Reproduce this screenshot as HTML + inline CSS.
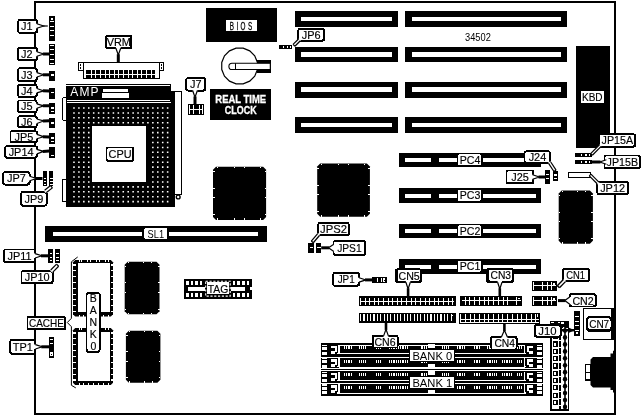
<!DOCTYPE html>
<html><head><meta charset="utf-8"><title>34502 motherboard</title>
<style>
html,body{margin:0;padding:0;background:#fff;}
svg{display:block;font-family:"Liberation Sans",sans-serif;will-change:transform;}
rect{shape-rendering:crispEdges;}
</style></head><body>
<svg width="644" height="416" viewBox="0 0 644 416">
<rect x="0" y="0" width="644" height="416" fill="#fff"/>
<rect x="35" y="2" width="579.6" height="411.7" fill="#fff" stroke="#000" stroke-width="2"/>
<rect x="49.00" y="15.80" width="6.10" height="24.90" fill="#000"/>
<rect x="50.80" y="17.90" width="2.60" height="2.20" fill="#fff"/>
<rect x="50.20" y="21.05" width="3.90" height="1.10" fill="#fff"/>
<rect x="50.20" y="25.65" width="3.90" height="1.10" fill="#fff"/>
<rect x="50.20" y="30.05" width="3.90" height="1.10" fill="#fff"/>
<rect x="50.20" y="35.15" width="3.90" height="1.10" fill="#fff"/>
<rect x="49.00" y="43.90" width="6.10" height="21.10" fill="#000"/>
<rect x="50.20" y="45.05" width="3.90" height="1.10" fill="#fff"/>
<rect x="50.20" y="48.75" width="3.90" height="1.10" fill="#fff"/>
<rect x="50.20" y="53.85" width="3.90" height="1.10" fill="#fff"/>
<rect x="50.20" y="58.85" width="3.90" height="1.10" fill="#fff"/>
<rect x="50.20" y="62.75" width="3.90" height="1.10" fill="#fff"/>
<rect x="49.10" y="70.50" width="5.60" height="10.00" fill="#000"/>
<rect x="50.50" y="74.45" width="3.40" height="1.10" fill="#fff"/>
<rect x="49.20" y="87.80" width="5.50" height="10.80" fill="#000"/>
<rect x="50.60" y="92.35" width="3.30" height="1.10" fill="#fff"/>
<rect x="49.20" y="102.80" width="5.50" height="10.80" fill="#000"/>
<rect x="50.60" y="107.45" width="3.30" height="1.10" fill="#fff"/>
<rect x="50.60" y="111.15" width="3.30" height="1.10" fill="#fff"/>
<rect x="49.20" y="117.80" width="5.50" height="10.30" fill="#000"/>
<rect x="50.60" y="122.45" width="3.30" height="1.10" fill="#fff"/>
<rect x="49.20" y="133.20" width="5.50" height="10.50" fill="#000"/>
<rect x="50.60" y="137.45" width="3.30" height="1.10" fill="#fff"/>
<rect x="50.60" y="141.35" width="3.30" height="1.10" fill="#fff"/>
<rect x="49.20" y="146.90" width="5.50" height="11.20" fill="#000"/>
<rect x="50.60" y="155.05" width="3.30" height="1.10" fill="#fff"/>
<rect x="42.50" y="171.20" width="4.70" height="15.00" fill="#000"/>
<rect x="43.90" y="177.95" width="2.50" height="1.10" fill="#fff"/>
<rect x="43.90" y="180.95" width="2.50" height="1.10" fill="#fff"/>
<rect x="43.90" y="183.65" width="2.50" height="1.10" fill="#fff"/>
<rect x="48.70" y="171.20" width="4.70" height="15.00" fill="#000"/>
<rect x="50.10" y="177.95" width="2.50" height="1.10" fill="#fff"/>
<rect x="50.10" y="180.95" width="2.50" height="1.10" fill="#fff"/>
<rect x="50.10" y="183.65" width="2.50" height="1.10" fill="#fff"/>
<rect x="48.20" y="249.20" width="5.00" height="13.80" fill="#000"/>
<rect x="49.60" y="252.95" width="2.80" height="1.10" fill="#fff"/>
<rect x="49.60" y="256.95" width="2.80" height="1.10" fill="#fff"/>
<rect x="49.60" y="260.25" width="2.80" height="1.10" fill="#fff"/>
<rect x="54.50" y="249.20" width="5.10" height="13.80" fill="#000"/>
<rect x="55.90" y="252.95" width="2.90" height="1.10" fill="#fff"/>
<rect x="55.90" y="256.95" width="2.90" height="1.10" fill="#fff"/>
<rect x="55.90" y="260.25" width="2.90" height="1.10" fill="#fff"/>
<rect x="49.20" y="337.00" width="4.60" height="20.50" fill="#000"/>
<rect x="50.30" y="338.65" width="2.90" height="1.10" fill="#fff"/>
<rect x="50.30" y="343.05" width="2.90" height="1.10" fill="#fff"/>
<rect x="50.20" y="352.40" width="3.00" height="3.50" fill="#fff"/>
<rect x="51.20" y="353.60" width="1.10" height="1.10" fill="#000"/>
<rect x="78.20" y="62.50" width="5.30" height="8.20" fill="#fff" stroke="#000" stroke-width="1"/>
<rect x="159.00" y="62.50" width="4.40" height="8.20" fill="#fff" stroke="#000" stroke-width="1"/>
<rect x="79.50" y="64.00" width="1.50" height="1.50" fill="#000"/>
<rect x="79.50" y="67.00" width="1.50" height="1.50" fill="#000"/>
<rect x="160.50" y="64.00" width="1.50" height="1.50" fill="#000"/>
<rect x="160.50" y="67.00" width="1.50" height="1.50" fill="#000"/>
<rect x="83.50" y="62.30" width="75.70" height="16.20" fill="#fff" stroke="#000" stroke-width="1.2"/>
<rect x="86.20" y="69.80" width="68.90" height="8.10" fill="#000"/>
<rect x="91.00" y="69.80" width="1.00" height="8.10" fill="#fff"/>
<rect x="95.00" y="69.80" width="1.00" height="8.10" fill="#fff"/>
<rect x="100.00" y="69.80" width="1.00" height="8.10" fill="#fff"/>
<rect x="105.00" y="69.80" width="1.00" height="8.10" fill="#fff"/>
<rect x="109.00" y="69.80" width="1.00" height="8.10" fill="#fff"/>
<rect x="114.00" y="69.80" width="1.00" height="8.10" fill="#fff"/>
<rect x="118.00" y="69.80" width="1.00" height="8.10" fill="#fff"/>
<rect x="123.00" y="69.80" width="1.00" height="8.10" fill="#fff"/>
<rect x="128.00" y="69.80" width="1.00" height="8.10" fill="#fff"/>
<rect x="132.00" y="69.80" width="1.00" height="8.10" fill="#fff"/>
<rect x="137.00" y="69.80" width="1.00" height="8.10" fill="#fff"/>
<rect x="141.00" y="69.80" width="1.00" height="8.10" fill="#fff"/>
<rect x="146.00" y="69.80" width="1.00" height="8.10" fill="#fff"/>
<rect x="151.00" y="69.80" width="1.00" height="8.10" fill="#fff"/>
<rect x="86.20" y="74.00" width="68.90" height="1.00" fill="#fff"/>
<rect x="66.00" y="83.50" width="105.20" height="1.00" fill="#000"/>
<rect x="66.00" y="85.70" width="104.20" height="14.30" fill="#000"/>
<rect x="170.40" y="84.00" width="0.80" height="18.00" fill="#000"/>
<rect x="102.90" y="89.30" width="25.00" height="2.20" fill="#fff"/>
<rect x="102.00" y="93.00" width="27.10" height="4.80" fill="#fff"/>
<text x="70.20" y="95.60" font-size="12" fill="#fff" text-anchor="start" letter-spacing="1.2">AMP</text>
<rect x="66.00" y="101.00" width="105.20" height="1.00" fill="#000"/>
<rect x="66.00" y="103.30" width="109.00" height="104.10" fill="#000"/>
<rect x="171.20" y="91.00" width="10.80" height="104.00" fill="#000"/>
<rect x="175.30" y="92.40" width="5.30" height="101.60" fill="#fff"/>
<circle cx="178.2" cy="197" r="1.9" fill="#fff" stroke="#000" stroke-width="1.4"/>
<rect x="62.30" y="97.60" width="4.00" height="22.70" fill="#fff" stroke="#000" stroke-width="1" rx="1.5"/>
<rect x="62.30" y="179.00" width="4.00" height="22.50" fill="#fff" stroke="#000" stroke-width="1" rx="1.5"/>
<path d="M73.20 107.20h1.55v1.55h-1.55zM78.13 107.20h1.55v1.55h-1.55zM83.06 107.20h1.55v1.55h-1.55zM87.99 107.20h1.55v1.55h-1.55zM92.92 107.20h1.55v1.55h-1.55zM97.85 107.20h1.55v1.55h-1.55zM102.78 107.20h1.55v1.55h-1.55zM107.71 107.20h1.55v1.55h-1.55zM112.64 107.20h1.55v1.55h-1.55zM117.57 107.20h1.55v1.55h-1.55zM122.50 107.20h1.55v1.55h-1.55zM127.43 107.20h1.55v1.55h-1.55zM132.36 107.20h1.55v1.55h-1.55zM137.29 107.20h1.55v1.55h-1.55zM142.22 107.20h1.55v1.55h-1.55zM147.15 107.20h1.55v1.55h-1.55zM152.08 107.20h1.55v1.55h-1.55zM157.01 107.20h1.55v1.55h-1.55zM161.94 107.20h1.55v1.55h-1.55zM166.87 107.20h1.55v1.55h-1.55zM73.20 112.13h1.55v1.55h-1.55zM78.13 112.13h1.55v1.55h-1.55zM83.06 112.13h1.55v1.55h-1.55zM87.99 112.13h1.55v1.55h-1.55zM92.92 112.13h1.55v1.55h-1.55zM97.85 112.13h1.55v1.55h-1.55zM102.78 112.13h1.55v1.55h-1.55zM107.71 112.13h1.55v1.55h-1.55zM112.64 112.13h1.55v1.55h-1.55zM117.57 112.13h1.55v1.55h-1.55zM122.50 112.13h1.55v1.55h-1.55zM127.43 112.13h1.55v1.55h-1.55zM132.36 112.13h1.55v1.55h-1.55zM137.29 112.13h1.55v1.55h-1.55zM142.22 112.13h1.55v1.55h-1.55zM147.15 112.13h1.55v1.55h-1.55zM152.08 112.13h1.55v1.55h-1.55zM157.01 112.13h1.55v1.55h-1.55zM161.94 112.13h1.55v1.55h-1.55zM166.87 112.13h1.55v1.55h-1.55zM73.20 117.06h1.55v1.55h-1.55zM78.13 117.06h1.55v1.55h-1.55zM83.06 117.06h1.55v1.55h-1.55zM87.99 117.06h1.55v1.55h-1.55zM92.92 117.06h1.55v1.55h-1.55zM97.85 117.06h1.55v1.55h-1.55zM102.78 117.06h1.55v1.55h-1.55zM107.71 117.06h1.55v1.55h-1.55zM112.64 117.06h1.55v1.55h-1.55zM117.57 117.06h1.55v1.55h-1.55zM122.50 117.06h1.55v1.55h-1.55zM127.43 117.06h1.55v1.55h-1.55zM132.36 117.06h1.55v1.55h-1.55zM137.29 117.06h1.55v1.55h-1.55zM142.22 117.06h1.55v1.55h-1.55zM147.15 117.06h1.55v1.55h-1.55zM152.08 117.06h1.55v1.55h-1.55zM157.01 117.06h1.55v1.55h-1.55zM161.94 117.06h1.55v1.55h-1.55zM166.87 117.06h1.55v1.55h-1.55zM73.20 121.99h1.55v1.55h-1.55zM78.13 121.99h1.55v1.55h-1.55zM83.06 121.99h1.55v1.55h-1.55zM87.99 121.99h1.55v1.55h-1.55zM92.92 121.99h1.55v1.55h-1.55zM97.85 121.99h1.55v1.55h-1.55zM102.78 121.99h1.55v1.55h-1.55zM107.71 121.99h1.55v1.55h-1.55zM112.64 121.99h1.55v1.55h-1.55zM117.57 121.99h1.55v1.55h-1.55zM122.50 121.99h1.55v1.55h-1.55zM127.43 121.99h1.55v1.55h-1.55zM132.36 121.99h1.55v1.55h-1.55zM137.29 121.99h1.55v1.55h-1.55zM142.22 121.99h1.55v1.55h-1.55zM147.15 121.99h1.55v1.55h-1.55zM152.08 121.99h1.55v1.55h-1.55zM157.01 121.99h1.55v1.55h-1.55zM161.94 121.99h1.55v1.55h-1.55zM166.87 121.99h1.55v1.55h-1.55zM73.20 126.92h1.55v1.55h-1.55zM78.13 126.92h1.55v1.55h-1.55zM83.06 126.92h1.55v1.55h-1.55zM87.99 126.92h1.55v1.55h-1.55zM152.08 126.92h1.55v1.55h-1.55zM157.01 126.92h1.55v1.55h-1.55zM161.94 126.92h1.55v1.55h-1.55zM166.87 126.92h1.55v1.55h-1.55zM73.20 131.85h1.55v1.55h-1.55zM78.13 131.85h1.55v1.55h-1.55zM83.06 131.85h1.55v1.55h-1.55zM87.99 131.85h1.55v1.55h-1.55zM152.08 131.85h1.55v1.55h-1.55zM157.01 131.85h1.55v1.55h-1.55zM161.94 131.85h1.55v1.55h-1.55zM166.87 131.85h1.55v1.55h-1.55zM73.20 136.78h1.55v1.55h-1.55zM78.13 136.78h1.55v1.55h-1.55zM83.06 136.78h1.55v1.55h-1.55zM87.99 136.78h1.55v1.55h-1.55zM152.08 136.78h1.55v1.55h-1.55zM157.01 136.78h1.55v1.55h-1.55zM161.94 136.78h1.55v1.55h-1.55zM166.87 136.78h1.55v1.55h-1.55zM73.20 141.71h1.55v1.55h-1.55zM78.13 141.71h1.55v1.55h-1.55zM83.06 141.71h1.55v1.55h-1.55zM87.99 141.71h1.55v1.55h-1.55zM152.08 141.71h1.55v1.55h-1.55zM157.01 141.71h1.55v1.55h-1.55zM161.94 141.71h1.55v1.55h-1.55zM166.87 141.71h1.55v1.55h-1.55zM73.20 146.64h1.55v1.55h-1.55zM78.13 146.64h1.55v1.55h-1.55zM83.06 146.64h1.55v1.55h-1.55zM87.99 146.64h1.55v1.55h-1.55zM152.08 146.64h1.55v1.55h-1.55zM157.01 146.64h1.55v1.55h-1.55zM161.94 146.64h1.55v1.55h-1.55zM166.87 146.64h1.55v1.55h-1.55zM73.20 151.57h1.55v1.55h-1.55zM78.13 151.57h1.55v1.55h-1.55zM83.06 151.57h1.55v1.55h-1.55zM87.99 151.57h1.55v1.55h-1.55zM152.08 151.57h1.55v1.55h-1.55zM157.01 151.57h1.55v1.55h-1.55zM161.94 151.57h1.55v1.55h-1.55zM166.87 151.57h1.55v1.55h-1.55zM73.20 156.50h1.55v1.55h-1.55zM78.13 156.50h1.55v1.55h-1.55zM83.06 156.50h1.55v1.55h-1.55zM87.99 156.50h1.55v1.55h-1.55zM152.08 156.50h1.55v1.55h-1.55zM157.01 156.50h1.55v1.55h-1.55zM161.94 156.50h1.55v1.55h-1.55zM166.87 156.50h1.55v1.55h-1.55zM73.20 161.43h1.55v1.55h-1.55zM78.13 161.43h1.55v1.55h-1.55zM83.06 161.43h1.55v1.55h-1.55zM87.99 161.43h1.55v1.55h-1.55zM152.08 161.43h1.55v1.55h-1.55zM157.01 161.43h1.55v1.55h-1.55zM161.94 161.43h1.55v1.55h-1.55zM166.87 161.43h1.55v1.55h-1.55zM73.20 166.36h1.55v1.55h-1.55zM78.13 166.36h1.55v1.55h-1.55zM83.06 166.36h1.55v1.55h-1.55zM87.99 166.36h1.55v1.55h-1.55zM152.08 166.36h1.55v1.55h-1.55zM157.01 166.36h1.55v1.55h-1.55zM161.94 166.36h1.55v1.55h-1.55zM166.87 166.36h1.55v1.55h-1.55zM73.20 171.29h1.55v1.55h-1.55zM78.13 171.29h1.55v1.55h-1.55zM83.06 171.29h1.55v1.55h-1.55zM87.99 171.29h1.55v1.55h-1.55zM152.08 171.29h1.55v1.55h-1.55zM157.01 171.29h1.55v1.55h-1.55zM161.94 171.29h1.55v1.55h-1.55zM166.87 171.29h1.55v1.55h-1.55zM73.20 176.22h1.55v1.55h-1.55zM78.13 176.22h1.55v1.55h-1.55zM83.06 176.22h1.55v1.55h-1.55zM87.99 176.22h1.55v1.55h-1.55zM152.08 176.22h1.55v1.55h-1.55zM157.01 176.22h1.55v1.55h-1.55zM161.94 176.22h1.55v1.55h-1.55zM166.87 176.22h1.55v1.55h-1.55zM73.20 181.15h1.55v1.55h-1.55zM78.13 181.15h1.55v1.55h-1.55zM83.06 181.15h1.55v1.55h-1.55zM87.99 181.15h1.55v1.55h-1.55zM152.08 181.15h1.55v1.55h-1.55zM157.01 181.15h1.55v1.55h-1.55zM161.94 181.15h1.55v1.55h-1.55zM166.87 181.15h1.55v1.55h-1.55zM73.20 186.08h1.55v1.55h-1.55zM78.13 186.08h1.55v1.55h-1.55zM83.06 186.08h1.55v1.55h-1.55zM87.99 186.08h1.55v1.55h-1.55zM92.92 186.08h1.55v1.55h-1.55zM97.85 186.08h1.55v1.55h-1.55zM102.78 186.08h1.55v1.55h-1.55zM107.71 186.08h1.55v1.55h-1.55zM112.64 186.08h1.55v1.55h-1.55zM117.57 186.08h1.55v1.55h-1.55zM122.50 186.08h1.55v1.55h-1.55zM127.43 186.08h1.55v1.55h-1.55zM132.36 186.08h1.55v1.55h-1.55zM137.29 186.08h1.55v1.55h-1.55zM142.22 186.08h1.55v1.55h-1.55zM147.15 186.08h1.55v1.55h-1.55zM152.08 186.08h1.55v1.55h-1.55zM157.01 186.08h1.55v1.55h-1.55zM161.94 186.08h1.55v1.55h-1.55zM166.87 186.08h1.55v1.55h-1.55zM73.20 191.01h1.55v1.55h-1.55zM78.13 191.01h1.55v1.55h-1.55zM83.06 191.01h1.55v1.55h-1.55zM87.99 191.01h1.55v1.55h-1.55zM92.92 191.01h1.55v1.55h-1.55zM97.85 191.01h1.55v1.55h-1.55zM102.78 191.01h1.55v1.55h-1.55zM107.71 191.01h1.55v1.55h-1.55zM112.64 191.01h1.55v1.55h-1.55zM117.57 191.01h1.55v1.55h-1.55zM122.50 191.01h1.55v1.55h-1.55zM127.43 191.01h1.55v1.55h-1.55zM132.36 191.01h1.55v1.55h-1.55zM137.29 191.01h1.55v1.55h-1.55zM142.22 191.01h1.55v1.55h-1.55zM147.15 191.01h1.55v1.55h-1.55zM152.08 191.01h1.55v1.55h-1.55zM157.01 191.01h1.55v1.55h-1.55zM161.94 191.01h1.55v1.55h-1.55zM166.87 191.01h1.55v1.55h-1.55zM73.20 195.94h1.55v1.55h-1.55zM78.13 195.94h1.55v1.55h-1.55zM83.06 195.94h1.55v1.55h-1.55zM87.99 195.94h1.55v1.55h-1.55zM92.92 195.94h1.55v1.55h-1.55zM97.85 195.94h1.55v1.55h-1.55zM102.78 195.94h1.55v1.55h-1.55zM107.71 195.94h1.55v1.55h-1.55zM112.64 195.94h1.55v1.55h-1.55zM117.57 195.94h1.55v1.55h-1.55zM122.50 195.94h1.55v1.55h-1.55zM127.43 195.94h1.55v1.55h-1.55zM132.36 195.94h1.55v1.55h-1.55zM137.29 195.94h1.55v1.55h-1.55zM142.22 195.94h1.55v1.55h-1.55zM147.15 195.94h1.55v1.55h-1.55zM152.08 195.94h1.55v1.55h-1.55zM157.01 195.94h1.55v1.55h-1.55zM161.94 195.94h1.55v1.55h-1.55zM166.87 195.94h1.55v1.55h-1.55zM73.20 200.87h1.55v1.55h-1.55zM78.13 200.87h1.55v1.55h-1.55zM83.06 200.87h1.55v1.55h-1.55zM87.99 200.87h1.55v1.55h-1.55zM92.92 200.87h1.55v1.55h-1.55zM97.85 200.87h1.55v1.55h-1.55zM102.78 200.87h1.55v1.55h-1.55zM107.71 200.87h1.55v1.55h-1.55zM112.64 200.87h1.55v1.55h-1.55zM117.57 200.87h1.55v1.55h-1.55zM122.50 200.87h1.55v1.55h-1.55zM127.43 200.87h1.55v1.55h-1.55zM132.36 200.87h1.55v1.55h-1.55zM137.29 200.87h1.55v1.55h-1.55zM142.22 200.87h1.55v1.55h-1.55zM147.15 200.87h1.55v1.55h-1.55zM152.08 200.87h1.55v1.55h-1.55zM157.01 200.87h1.55v1.55h-1.55zM161.94 200.87h1.55v1.55h-1.55zM166.87 200.87h1.55v1.55h-1.55z" fill="#fff"/>
<rect x="92.00" y="126.00" width="54.20" height="56.00" fill="#fff"/>
<rect x="44.50" y="226.30" width="222.80" height="15.50" fill="#000"/>
<rect x="53.00" y="232.00" width="205.00" height="3.80" fill="#fff"/>
<rect x="142.20" y="227.00" width="26.80" height="13.50" fill="#000"/>
<rect x="144.20" y="228.00" width="22.80" height="11.30" fill="#fff" rx="1.8"/>
<text x="155.80" y="238.00" font-size="11" fill="#000" text-anchor="middle" textLength="16.50" lengthAdjust="spacingAndGlyphs">SL1</text>
<polygon points="216.00,166.70 263.10,166.70 266.10,169.70 266.10,216.90 263.10,219.90 216.00,219.90 213.00,216.90 213.00,169.70" fill="#000"/>
<rect x="217.14" y="166.70" width="1.00" height="1.60" fill="#fff"/>
<rect x="217.14" y="218.30" width="1.00" height="1.60" fill="#fff"/>
<rect x="233.91" y="166.70" width="1.00" height="1.60" fill="#fff"/>
<rect x="233.91" y="218.30" width="1.00" height="1.60" fill="#fff"/>
<rect x="243.69" y="166.70" width="1.00" height="1.60" fill="#fff"/>
<rect x="243.69" y="218.30" width="1.00" height="1.60" fill="#fff"/>
<rect x="260.46" y="166.70" width="1.00" height="1.60" fill="#fff"/>
<rect x="260.46" y="218.30" width="1.00" height="1.60" fill="#fff"/>
<rect x="213.00" y="170.85" width="1.60" height="1.00" fill="#fff"/>
<rect x="264.50" y="170.85" width="1.60" height="1.00" fill="#fff"/>
<rect x="213.00" y="187.65" width="1.60" height="1.00" fill="#fff"/>
<rect x="264.50" y="187.65" width="1.60" height="1.00" fill="#fff"/>
<rect x="213.00" y="197.45" width="1.60" height="1.00" fill="#fff"/>
<rect x="264.50" y="197.45" width="1.60" height="1.00" fill="#fff"/>
<rect x="213.00" y="214.25" width="1.60" height="1.00" fill="#fff"/>
<rect x="264.50" y="214.25" width="1.60" height="1.00" fill="#fff"/>
<polygon points="320.20,163.60 366.90,163.60 369.90,166.60 369.90,213.80 366.90,216.80 320.20,216.80 317.20,213.80 317.20,166.60" fill="#000"/>
<rect x="321.29" y="163.60" width="1.00" height="1.60" fill="#fff"/>
<rect x="321.29" y="215.20" width="1.00" height="1.60" fill="#fff"/>
<rect x="337.96" y="163.60" width="1.00" height="1.60" fill="#fff"/>
<rect x="337.96" y="215.20" width="1.00" height="1.60" fill="#fff"/>
<rect x="347.64" y="163.60" width="1.00" height="1.60" fill="#fff"/>
<rect x="347.64" y="215.20" width="1.00" height="1.60" fill="#fff"/>
<rect x="364.31" y="163.60" width="1.00" height="1.60" fill="#fff"/>
<rect x="364.31" y="215.20" width="1.00" height="1.60" fill="#fff"/>
<rect x="317.20" y="167.75" width="1.60" height="1.00" fill="#fff"/>
<rect x="368.30" y="167.75" width="1.60" height="1.00" fill="#fff"/>
<rect x="317.20" y="184.55" width="1.60" height="1.00" fill="#fff"/>
<rect x="368.30" y="184.55" width="1.60" height="1.00" fill="#fff"/>
<rect x="317.20" y="194.35" width="1.60" height="1.00" fill="#fff"/>
<rect x="368.30" y="194.35" width="1.60" height="1.00" fill="#fff"/>
<rect x="317.20" y="211.15" width="1.60" height="1.00" fill="#fff"/>
<rect x="368.30" y="211.15" width="1.60" height="1.00" fill="#fff"/>
<polygon points="561.70,190.60 589.90,190.60 592.90,193.60 592.90,240.80 589.90,243.80 561.70,243.80 558.70,240.80 558.70,193.60" fill="#000"/>
<rect x="561.90" y="190.60" width="1.00" height="1.60" fill="#fff"/>
<rect x="561.90" y="242.20" width="1.00" height="1.60" fill="#fff"/>
<rect x="576.80" y="190.60" width="1.00" height="1.60" fill="#fff"/>
<rect x="576.80" y="242.20" width="1.00" height="1.60" fill="#fff"/>
<rect x="584.70" y="190.60" width="1.00" height="1.60" fill="#fff"/>
<rect x="584.70" y="242.20" width="1.00" height="1.60" fill="#fff"/>
<rect x="558.70" y="194.75" width="1.60" height="1.00" fill="#fff"/>
<rect x="591.30" y="194.75" width="1.60" height="1.00" fill="#fff"/>
<rect x="558.70" y="211.55" width="1.60" height="1.00" fill="#fff"/>
<rect x="591.30" y="211.55" width="1.60" height="1.00" fill="#fff"/>
<rect x="558.70" y="221.35" width="1.60" height="1.00" fill="#fff"/>
<rect x="591.30" y="221.35" width="1.60" height="1.00" fill="#fff"/>
<rect x="558.70" y="238.15" width="1.60" height="1.00" fill="#fff"/>
<rect x="591.30" y="238.15" width="1.60" height="1.00" fill="#fff"/>
<polygon points="127.70,261.70 156.50,261.70 159.50,264.70 159.50,311.20 156.50,314.20 127.70,314.20 124.70,311.20 124.70,264.70" fill="#000"/>
<rect x="128.00" y="261.70" width="1.00" height="1.60" fill="#fff"/>
<rect x="128.00" y="312.60" width="1.00" height="1.60" fill="#fff"/>
<rect x="143.10" y="261.70" width="1.00" height="1.60" fill="#fff"/>
<rect x="143.10" y="312.60" width="1.00" height="1.60" fill="#fff"/>
<rect x="151.20" y="261.70" width="1.00" height="1.60" fill="#fff"/>
<rect x="151.20" y="312.60" width="1.00" height="1.60" fill="#fff"/>
<rect x="124.70" y="265.76" width="1.60" height="1.00" fill="#fff"/>
<rect x="157.90" y="265.76" width="1.60" height="1.00" fill="#fff"/>
<rect x="124.70" y="282.39" width="1.60" height="1.00" fill="#fff"/>
<rect x="157.90" y="282.39" width="1.60" height="1.00" fill="#fff"/>
<rect x="124.70" y="292.01" width="1.60" height="1.00" fill="#fff"/>
<rect x="157.90" y="292.01" width="1.60" height="1.00" fill="#fff"/>
<rect x="124.70" y="308.64" width="1.60" height="1.00" fill="#fff"/>
<rect x="157.90" y="308.64" width="1.60" height="1.00" fill="#fff"/>
<polygon points="128.90,330.70 157.40,330.70 160.40,333.70 160.40,379.80 157.40,382.80 128.90,382.80 125.90,379.80 125.90,333.70" fill="#000"/>
<rect x="129.15" y="330.70" width="1.00" height="1.60" fill="#fff"/>
<rect x="129.15" y="381.20" width="1.00" height="1.60" fill="#fff"/>
<rect x="144.15" y="330.70" width="1.00" height="1.60" fill="#fff"/>
<rect x="144.15" y="381.20" width="1.00" height="1.60" fill="#fff"/>
<rect x="152.15" y="330.70" width="1.00" height="1.60" fill="#fff"/>
<rect x="152.15" y="381.20" width="1.00" height="1.60" fill="#fff"/>
<rect x="125.90" y="334.71" width="1.60" height="1.00" fill="#fff"/>
<rect x="158.80" y="334.71" width="1.60" height="1.00" fill="#fff"/>
<rect x="125.90" y="351.24" width="1.60" height="1.00" fill="#fff"/>
<rect x="158.80" y="351.24" width="1.60" height="1.00" fill="#fff"/>
<rect x="125.90" y="360.76" width="1.60" height="1.00" fill="#fff"/>
<rect x="158.80" y="360.76" width="1.60" height="1.00" fill="#fff"/>
<rect x="125.90" y="377.29" width="1.60" height="1.00" fill="#fff"/>
<rect x="158.80" y="377.29" width="1.60" height="1.00" fill="#fff"/>
<polygon points="75.20,260.00 110.80,260.00 113.00,262.20 113.00,314.30 110.80,316.50 75.20,316.50 73.00,314.30 73.00,262.20" fill="#000"/>
<rect x="72.80" y="264.45" width="3.20" height="1.10" fill="#fff"/>
<rect x="111.40" y="264.45" width="1.80" height="1.10" fill="#fff"/>
<rect x="72.80" y="270.26" width="3.20" height="1.10" fill="#fff"/>
<rect x="111.40" y="270.26" width="1.80" height="1.10" fill="#fff"/>
<rect x="72.80" y="276.07" width="3.20" height="1.10" fill="#fff"/>
<rect x="111.40" y="276.07" width="1.80" height="1.10" fill="#fff"/>
<rect x="72.80" y="281.89" width="3.20" height="1.10" fill="#fff"/>
<rect x="111.40" y="281.89" width="1.80" height="1.10" fill="#fff"/>
<rect x="72.80" y="287.70" width="3.20" height="1.10" fill="#fff"/>
<rect x="111.40" y="287.70" width="1.80" height="1.10" fill="#fff"/>
<rect x="72.80" y="293.51" width="3.20" height="1.10" fill="#fff"/>
<rect x="111.40" y="293.51" width="1.80" height="1.10" fill="#fff"/>
<rect x="72.80" y="299.32" width="3.20" height="1.10" fill="#fff"/>
<rect x="111.40" y="299.32" width="1.80" height="1.10" fill="#fff"/>
<rect x="72.80" y="305.14" width="3.20" height="1.10" fill="#fff"/>
<rect x="111.40" y="305.14" width="1.80" height="1.10" fill="#fff"/>
<rect x="72.80" y="310.95" width="3.20" height="1.10" fill="#fff"/>
<rect x="111.40" y="310.95" width="1.80" height="1.10" fill="#fff"/>
<rect x="78.50" y="259.80" width="1.00" height="1.80" fill="#fff"/>
<rect x="81.40" y="259.80" width="1.00" height="1.80" fill="#fff"/>
<rect x="87.20" y="259.80" width="1.00" height="1.80" fill="#fff"/>
<rect x="90.10" y="259.80" width="1.00" height="1.80" fill="#fff"/>
<rect x="95.90" y="259.80" width="1.00" height="1.80" fill="#fff"/>
<rect x="98.80" y="259.80" width="1.00" height="1.80" fill="#fff"/>
<rect x="104.60" y="259.80" width="1.00" height="1.80" fill="#fff"/>
<rect x="107.50" y="259.80" width="1.00" height="1.80" fill="#fff"/>
<rect x="78.50" y="314.50" width="1.00" height="2.10" fill="#fff"/>
<rect x="83.33" y="314.50" width="1.00" height="2.10" fill="#fff"/>
<rect x="88.17" y="314.50" width="1.00" height="2.10" fill="#fff"/>
<rect x="93.00" y="314.50" width="1.00" height="2.10" fill="#fff"/>
<rect x="97.83" y="314.50" width="1.00" height="2.10" fill="#fff"/>
<rect x="102.67" y="314.50" width="1.00" height="2.10" fill="#fff"/>
<rect x="107.50" y="314.50" width="1.00" height="2.10" fill="#fff"/>
<rect x="77.90" y="263.10" width="31.70" height="48.70" fill="#fff"/>
<polygon points="75.20,328.00 110.80,328.00 113.00,330.20 113.00,382.80 110.80,385.00 75.20,385.00 73.00,382.80 73.00,330.20" fill="#000"/>
<rect x="72.80" y="332.45" width="3.20" height="1.10" fill="#fff"/>
<rect x="111.40" y="332.45" width="1.80" height="1.10" fill="#fff"/>
<rect x="72.80" y="338.32" width="3.20" height="1.10" fill="#fff"/>
<rect x="111.40" y="338.32" width="1.80" height="1.10" fill="#fff"/>
<rect x="72.80" y="344.20" width="3.20" height="1.10" fill="#fff"/>
<rect x="111.40" y="344.20" width="1.80" height="1.10" fill="#fff"/>
<rect x="72.80" y="350.07" width="3.20" height="1.10" fill="#fff"/>
<rect x="111.40" y="350.07" width="1.80" height="1.10" fill="#fff"/>
<rect x="72.80" y="355.95" width="3.20" height="1.10" fill="#fff"/>
<rect x="111.40" y="355.95" width="1.80" height="1.10" fill="#fff"/>
<rect x="72.80" y="361.82" width="3.20" height="1.10" fill="#fff"/>
<rect x="111.40" y="361.82" width="1.80" height="1.10" fill="#fff"/>
<rect x="72.80" y="367.70" width="3.20" height="1.10" fill="#fff"/>
<rect x="111.40" y="367.70" width="1.80" height="1.10" fill="#fff"/>
<rect x="72.80" y="373.57" width="3.20" height="1.10" fill="#fff"/>
<rect x="111.40" y="373.57" width="1.80" height="1.10" fill="#fff"/>
<rect x="72.80" y="379.45" width="3.20" height="1.10" fill="#fff"/>
<rect x="111.40" y="379.45" width="1.80" height="1.10" fill="#fff"/>
<rect x="78.50" y="327.80" width="1.00" height="1.80" fill="#fff"/>
<rect x="81.40" y="327.80" width="1.00" height="1.80" fill="#fff"/>
<rect x="87.20" y="327.80" width="1.00" height="1.80" fill="#fff"/>
<rect x="90.10" y="327.80" width="1.00" height="1.80" fill="#fff"/>
<rect x="95.90" y="327.80" width="1.00" height="1.80" fill="#fff"/>
<rect x="98.80" y="327.80" width="1.00" height="1.80" fill="#fff"/>
<rect x="104.60" y="327.80" width="1.00" height="1.80" fill="#fff"/>
<rect x="107.50" y="327.80" width="1.00" height="1.80" fill="#fff"/>
<rect x="78.50" y="383.00" width="1.00" height="2.10" fill="#fff"/>
<rect x="83.33" y="383.00" width="1.00" height="2.10" fill="#fff"/>
<rect x="88.17" y="383.00" width="1.00" height="2.10" fill="#fff"/>
<rect x="93.00" y="383.00" width="1.00" height="2.10" fill="#fff"/>
<rect x="97.83" y="383.00" width="1.00" height="2.10" fill="#fff"/>
<rect x="102.67" y="383.00" width="1.00" height="2.10" fill="#fff"/>
<rect x="107.50" y="383.00" width="1.00" height="2.10" fill="#fff"/>
<rect x="77.70" y="332.30" width="31.90" height="48.50" fill="#fff"/>
<polyline points="77.70,257.00 71.40,261.80 71.40,318.30 67.30,322.50 71.40,326.70 71.40,385.30 75.80,387.90" fill="none" stroke="#000" stroke-width="1"/>
<rect x="85.80" y="292.00" width="14.80" height="60.80" fill="#000" rx="3"/>
<rect x="87.40" y="293.60" width="11.60" height="57.40" fill="#fff" rx="2"/>
<text font-size="10.5" text-anchor="middle" fill="#000" stroke="#000" stroke-width="0.15"><tspan x="93.3" y="301.5">B</tspan><tspan x="93.3" y="313.8">A</tspan><tspan x="93.3" y="325.6">N</tspan><tspan x="93.3" y="337.6">K</tspan><tspan x="93.3" y="349.6">0</tspan></text>
<rect x="184.00" y="279.00" width="68.30" height="19.80" fill="#000"/>
<rect x="186.10" y="280.90" width="2.60" height="3.80" fill="#fff"/>
<rect x="186.10" y="293.00" width="2.60" height="3.70" fill="#fff"/>
<rect x="232.70" y="280.90" width="2.60" height="3.80" fill="#fff"/>
<rect x="232.70" y="293.00" width="2.60" height="3.70" fill="#fff"/>
<rect x="190.60" y="280.90" width="2.60" height="3.80" fill="#fff"/>
<rect x="190.60" y="293.00" width="2.60" height="3.70" fill="#fff"/>
<rect x="237.35" y="280.90" width="2.60" height="3.80" fill="#fff"/>
<rect x="237.35" y="293.00" width="2.60" height="3.70" fill="#fff"/>
<rect x="195.10" y="280.90" width="2.60" height="3.80" fill="#fff"/>
<rect x="195.10" y="293.00" width="2.60" height="3.70" fill="#fff"/>
<rect x="242.00" y="280.90" width="2.60" height="3.80" fill="#fff"/>
<rect x="242.00" y="293.00" width="2.60" height="3.70" fill="#fff"/>
<rect x="199.60" y="280.90" width="2.60" height="3.80" fill="#fff"/>
<rect x="199.60" y="293.00" width="2.60" height="3.70" fill="#fff"/>
<rect x="246.65" y="280.90" width="2.60" height="3.80" fill="#fff"/>
<rect x="246.65" y="293.00" width="2.60" height="3.70" fill="#fff"/>
<rect x="187.90" y="286.80" width="16.80" height="3.70" fill="#fff"/>
<rect x="231.40" y="286.80" width="13.70" height="3.70" fill="#fff"/>
<rect x="249.80" y="287.40" width="2.50" height="2.50" fill="#fff"/>
<rect x="205.7" y="281.2" width="24.5" height="14.9" fill="#000" stroke="#fff" stroke-width="1.1" stroke-dasharray="2.2 1.6" style="shape-rendering:auto"/>
<rect x="206.80" y="281.80" width="22.40" height="11.80" fill="#fff"/>
<text x="218.00" y="292.60" font-size="11.3" fill="#000" text-anchor="middle" textLength="20.60" lengthAdjust="spacingAndGlyphs" stroke="#000" stroke-width="0.15">TAG</text>
<rect x="206.00" y="8.30" width="70.80" height="33.70" fill="#000"/>
<rect x="225.90" y="19.90" width="31.10" height="11.10" fill="#fff"/>
<text transform="translate(229.7,29.9) scale(0.56,1)" font-size="11.3" letter-spacing="4.4" fill="#000" stroke="#000" stroke-width="0.3">BIOS</text>
<polygon points="257.45,69.55 254.73,76.11 249.71,81.13 243.15,83.85 236.05,83.85 229.49,81.13 224.47,76.11 221.75,69.55 221.75,62.45 224.47,55.89 229.49,50.87 236.05,48.15 243.15,48.15 249.71,50.87 254.73,55.89 257.45,62.45" fill="#fff" stroke="#000" stroke-width="1.2"/>
<rect x="257.30" y="60.00" width="13.70" height="12.50" fill="#000"/>
<path d="M270.3 63.3H232 A3.1 3.1 0 0 0 232 69.5 H270.3Z" fill="#fff" stroke="#000" stroke-width="1.1"/>
<line x1="235.50" y1="63.30" x2="235.50" y2="69.50" stroke="#000" stroke-width="1"/>
<rect x="210.30" y="88.80" width="60.70" height="30.70" fill="#000"/>
<text x="240.70" y="103.00" font-size="10.5" fill="#fff" text-anchor="middle" font-weight="bold" textLength="50.80" lengthAdjust="spacingAndGlyphs" stroke="#fff" stroke-width="0.3">REAL TIME</text>
<text x="240.70" y="113.80" font-size="10.5" fill="#fff" text-anchor="middle" font-weight="bold" textLength="31.80" lengthAdjust="spacingAndGlyphs" stroke="#fff" stroke-width="0.3">CLOCK</text>
<rect x="188.00" y="103.90" width="16.20" height="11.00" fill="#000"/>
<rect x="189.10" y="105.20" width="1.00" height="8.50" fill="#fff"/>
<rect x="192.90" y="105.20" width="1.00" height="8.50" fill="#fff"/>
<rect x="198.50" y="105.20" width="1.00" height="8.50" fill="#fff"/>
<rect x="202.10" y="105.20" width="1.00" height="8.50" fill="#fff"/>
<rect x="189.60" y="109.00" width="13.00" height="1.00" fill="#fff"/>
<rect x="278.50" y="45.00" width="13.80" height="3.80" fill="#000"/>
<rect x="283.00" y="46.20" width="1.20" height="1.60" fill="#fff"/>
<rect x="286.80" y="46.20" width="1.20" height="1.60" fill="#fff"/>
<rect x="289.50" y="46.20" width="1.20" height="1.60" fill="#fff"/>
<rect x="295.30" y="11.30" width="102.50" height="15.80" fill="#000"/>
<rect x="300.50" y="16.80" width="91.00" height="4.50" fill="#fff"/>
<rect x="405.00" y="11.30" width="161.80" height="15.80" fill="#000"/>
<rect x="411.50" y="16.80" width="149.00" height="4.50" fill="#fff"/>
<rect x="295.30" y="46.55" width="102.50" height="15.80" fill="#000"/>
<rect x="300.50" y="52.05" width="91.00" height="4.50" fill="#fff"/>
<rect x="405.00" y="46.55" width="161.80" height="15.80" fill="#000"/>
<rect x="411.50" y="52.05" width="149.00" height="4.50" fill="#fff"/>
<rect x="295.30" y="81.80" width="102.50" height="15.80" fill="#000"/>
<rect x="300.50" y="87.30" width="91.00" height="4.50" fill="#fff"/>
<rect x="405.00" y="81.80" width="161.80" height="15.80" fill="#000"/>
<rect x="411.50" y="87.30" width="149.00" height="4.50" fill="#fff"/>
<rect x="295.30" y="117.05" width="102.50" height="15.80" fill="#000"/>
<rect x="300.50" y="122.55" width="91.00" height="4.50" fill="#fff"/>
<rect x="405.00" y="117.05" width="161.80" height="15.80" fill="#000"/>
<rect x="411.50" y="122.55" width="149.00" height="4.50" fill="#fff"/>
<text x="465.00" y="41.00" font-size="10.2" fill="#000" text-anchor="start" textLength="25.80" lengthAdjust="spacingAndGlyphs">34502</text>
<rect x="575.50" y="45.80" width="34.50" height="101.70" fill="#000"/>
<rect x="580.90" y="90.90" width="23.20" height="12.20" fill="#fff" rx="2"/>
<text x="592.30" y="101.10" font-size="11.3" fill="#000" text-anchor="middle" textLength="20.60" lengthAdjust="spacingAndGlyphs" stroke="#000" stroke-width="0.15">KBD</text>
<rect x="399.00" y="152.50" width="141.50" height="14.50" fill="#000"/>
<rect x="405.00" y="158.00" width="26.10" height="4.10" fill="#fff"/>
<rect x="439.00" y="158.00" width="96.50" height="4.10" fill="#fff"/>
<rect x="456.90" y="153.50" width="26.30" height="12.50" fill="#000"/>
<rect x="457.70" y="154.30" width="23.20" height="10.90" fill="#fff" rx="1.5"/>
<text x="470.00" y="163.60" font-size="11" fill="#000" text-anchor="middle" textLength="20.60" lengthAdjust="spacingAndGlyphs" stroke="#000" stroke-width="0.15">PC4</text>
<rect x="399.00" y="188.05" width="141.50" height="14.50" fill="#000"/>
<rect x="405.00" y="193.55" width="26.10" height="4.10" fill="#fff"/>
<rect x="439.00" y="193.55" width="96.50" height="4.10" fill="#fff"/>
<rect x="456.90" y="189.05" width="26.30" height="12.50" fill="#000"/>
<rect x="457.70" y="189.85" width="23.20" height="10.90" fill="#fff" rx="1.5"/>
<text x="470.00" y="199.15" font-size="11" fill="#000" text-anchor="middle" textLength="20.60" lengthAdjust="spacingAndGlyphs" stroke="#000" stroke-width="0.15">PC3</text>
<rect x="399.00" y="223.60" width="141.50" height="14.50" fill="#000"/>
<rect x="405.00" y="229.10" width="26.10" height="4.10" fill="#fff"/>
<rect x="439.00" y="229.10" width="96.50" height="4.10" fill="#fff"/>
<rect x="456.90" y="224.60" width="26.30" height="12.50" fill="#000"/>
<rect x="457.70" y="225.40" width="23.20" height="10.90" fill="#fff" rx="1.5"/>
<text x="470.00" y="234.70" font-size="11" fill="#000" text-anchor="middle" textLength="20.60" lengthAdjust="spacingAndGlyphs" stroke="#000" stroke-width="0.15">PC2</text>
<rect x="399.00" y="259.15" width="141.50" height="14.50" fill="#000"/>
<rect x="405.00" y="264.65" width="26.10" height="4.10" fill="#fff"/>
<rect x="439.00" y="264.65" width="96.50" height="4.10" fill="#fff"/>
<rect x="456.90" y="260.15" width="26.30" height="12.50" fill="#000"/>
<rect x="457.70" y="260.95" width="23.20" height="10.90" fill="#fff" rx="1.5"/>
<text x="470.00" y="270.25" font-size="11" fill="#000" text-anchor="middle" textLength="20.60" lengthAdjust="spacingAndGlyphs" stroke="#000" stroke-width="0.15">PC1</text>
<rect x="545.00" y="170.00" width="5.20" height="13.80" fill="#000"/>
<rect x="546.40" y="173.95" width="3.00" height="1.10" fill="#fff"/>
<rect x="546.40" y="177.95" width="3.00" height="1.10" fill="#fff"/>
<rect x="552.50" y="171.30" width="5.10" height="10.00" fill="#000"/>
<rect x="553.90" y="174.45" width="2.90" height="1.10" fill="#fff"/>
<rect x="553.90" y="177.65" width="2.90" height="1.10" fill="#fff"/>
<rect x="575.00" y="153.00" width="16.80" height="4.00" fill="#000"/>
<rect x="575.00" y="160.00" width="16.80" height="4.30" fill="#000"/>
<rect x="580.50" y="154.20" width="1.20" height="1.70" fill="#fff"/>
<rect x="585.30" y="154.20" width="1.20" height="1.70" fill="#fff"/>
<rect x="588.50" y="154.20" width="1.20" height="1.70" fill="#fff"/>
<rect x="580.50" y="161.30" width="1.20" height="1.70" fill="#fff"/>
<rect x="585.30" y="161.30" width="1.20" height="1.70" fill="#fff"/>
<rect x="588.50" y="161.30" width="1.20" height="1.70" fill="#fff"/>
<rect x="568.00" y="172.00" width="22.00" height="5.50" fill="#fff" stroke="#000" stroke-width="1"/>
<rect x="308.30" y="242.50" width="5.50" height="10.80" fill="#000"/>
<rect x="315.80" y="242.50" width="5.50" height="10.80" fill="#000"/>
<rect x="309.50" y="247.30" width="3.50" height="1.00" fill="#fff"/>
<rect x="317.00" y="247.30" width="3.50" height="1.00" fill="#fff"/>
<rect x="372.00" y="277.00" width="14.90" height="6.00" fill="#000"/>
<rect x="376.90" y="278.40" width="1.20" height="3.30" fill="#fff"/>
<rect x="380.60" y="278.40" width="1.30" height="3.30" fill="#fff"/>
<rect x="382.90" y="278.40" width="2.50" height="3.30" fill="#fff"/>
<rect x="383.70" y="279.50" width="1.00" height="1.10" fill="#000"/>
<rect x="358.80" y="296.00" width="96.70" height="10.20" fill="#000"/>
<rect x="359.90" y="297.60" width="1.00" height="7.00" fill="#fff"/>
<rect x="364.52" y="297.60" width="1.00" height="7.00" fill="#fff"/>
<rect x="369.14" y="297.60" width="1.00" height="7.00" fill="#fff"/>
<rect x="373.76" y="297.60" width="1.00" height="7.00" fill="#fff"/>
<rect x="378.38" y="297.60" width="1.00" height="7.00" fill="#fff"/>
<rect x="383.00" y="297.60" width="1.00" height="7.00" fill="#fff"/>
<rect x="387.62" y="297.60" width="1.00" height="7.00" fill="#fff"/>
<rect x="392.24" y="297.60" width="1.00" height="7.00" fill="#fff"/>
<rect x="396.86" y="297.60" width="1.00" height="7.00" fill="#fff"/>
<rect x="401.48" y="297.60" width="1.00" height="7.00" fill="#fff"/>
<rect x="406.10" y="297.60" width="1.00" height="7.00" fill="#fff"/>
<rect x="410.72" y="297.60" width="1.00" height="7.00" fill="#fff"/>
<rect x="415.34" y="297.60" width="1.00" height="7.00" fill="#fff"/>
<rect x="419.96" y="297.60" width="1.00" height="7.00" fill="#fff"/>
<rect x="424.58" y="297.60" width="1.00" height="7.00" fill="#fff"/>
<rect x="429.20" y="297.60" width="1.00" height="7.00" fill="#fff"/>
<rect x="433.82" y="297.60" width="1.00" height="7.00" fill="#fff"/>
<rect x="438.44" y="297.60" width="1.00" height="7.00" fill="#fff"/>
<rect x="443.06" y="297.60" width="1.00" height="7.00" fill="#fff"/>
<rect x="447.68" y="297.60" width="1.00" height="7.00" fill="#fff"/>
<rect x="452.30" y="297.60" width="1.00" height="7.00" fill="#fff"/>
<rect x="360.00" y="300.55" width="94.30" height="1.10" fill="#fff"/>
<rect x="451.50" y="297.90" width="1.60" height="1.70" fill="#fff"/>
<rect x="460.30" y="295.90" width="61.50" height="9.70" fill="#000"/>
<rect x="464.60" y="297.10" width="1.00" height="7.50" fill="#fff"/>
<rect x="469.35" y="297.10" width="1.00" height="7.50" fill="#fff"/>
<rect x="474.10" y="297.10" width="1.00" height="7.50" fill="#fff"/>
<rect x="478.85" y="297.10" width="1.00" height="7.50" fill="#fff"/>
<rect x="483.60" y="297.10" width="1.00" height="7.50" fill="#fff"/>
<rect x="488.35" y="297.10" width="1.00" height="7.50" fill="#fff"/>
<rect x="493.10" y="297.10" width="1.00" height="7.50" fill="#fff"/>
<rect x="497.85" y="297.10" width="1.00" height="7.50" fill="#fff"/>
<rect x="502.60" y="297.10" width="1.00" height="7.50" fill="#fff"/>
<rect x="507.35" y="297.10" width="1.00" height="7.50" fill="#fff"/>
<rect x="516.00" y="297.10" width="1.00" height="7.50" fill="#fff"/>
<rect x="461.70" y="299.80" width="58.90" height="1.00" fill="#fff"/>
<rect x="517.80" y="297.60" width="2.20" height="1.10" fill="#fff"/>
<rect x="358.80" y="312.70" width="96.70" height="10.10" fill="#000"/>
<rect x="360.05" y="314.30" width="1.10" height="6.90" fill="#fff"/>
<rect x="363.40" y="314.30" width="1.10" height="6.90" fill="#fff"/>
<rect x="366.75" y="314.30" width="1.10" height="6.90" fill="#fff"/>
<rect x="370.10" y="314.30" width="1.10" height="6.90" fill="#fff"/>
<rect x="373.45" y="314.30" width="1.10" height="6.90" fill="#fff"/>
<rect x="376.80" y="314.30" width="1.10" height="6.90" fill="#fff"/>
<rect x="380.15" y="314.30" width="1.10" height="6.90" fill="#fff"/>
<rect x="383.50" y="314.30" width="1.10" height="6.90" fill="#fff"/>
<rect x="386.85" y="314.30" width="1.10" height="6.90" fill="#fff"/>
<rect x="390.20" y="314.30" width="1.10" height="6.90" fill="#fff"/>
<rect x="393.55" y="314.30" width="1.10" height="6.90" fill="#fff"/>
<rect x="396.90" y="314.30" width="1.10" height="6.90" fill="#fff"/>
<rect x="400.25" y="314.30" width="1.10" height="6.90" fill="#fff"/>
<rect x="403.60" y="314.30" width="1.10" height="6.90" fill="#fff"/>
<rect x="406.95" y="314.30" width="1.10" height="6.90" fill="#fff"/>
<rect x="410.30" y="314.30" width="1.10" height="6.90" fill="#fff"/>
<rect x="413.65" y="314.30" width="1.10" height="6.90" fill="#fff"/>
<rect x="417.00" y="314.30" width="1.10" height="6.90" fill="#fff"/>
<rect x="420.35" y="314.30" width="1.10" height="6.90" fill="#fff"/>
<rect x="423.70" y="314.30" width="1.10" height="6.90" fill="#fff"/>
<rect x="427.05" y="314.30" width="1.10" height="6.90" fill="#fff"/>
<rect x="430.40" y="314.30" width="1.10" height="6.90" fill="#fff"/>
<rect x="433.75" y="314.30" width="1.10" height="6.90" fill="#fff"/>
<rect x="437.10" y="314.30" width="1.10" height="6.90" fill="#fff"/>
<rect x="440.45" y="314.30" width="1.10" height="6.90" fill="#fff"/>
<rect x="443.80" y="314.30" width="1.10" height="6.90" fill="#fff"/>
<rect x="447.15" y="314.30" width="1.10" height="6.90" fill="#fff"/>
<rect x="450.50" y="314.30" width="1.10" height="6.90" fill="#fff"/>
<rect x="451.50" y="314.60" width="1.60" height="1.70" fill="#fff"/>
<rect x="458.90" y="312.60" width="81.00" height="11.20" fill="#000"/>
<rect x="460.10" y="314.00" width="1.00" height="8.80" fill="#fff"/>
<rect x="464.80" y="314.00" width="1.00" height="8.80" fill="#fff"/>
<rect x="469.50" y="314.00" width="1.00" height="8.80" fill="#fff"/>
<rect x="474.20" y="314.00" width="1.00" height="8.80" fill="#fff"/>
<rect x="478.90" y="314.00" width="1.00" height="8.80" fill="#fff"/>
<rect x="483.60" y="314.00" width="1.00" height="8.80" fill="#fff"/>
<rect x="488.30" y="314.00" width="1.00" height="8.80" fill="#fff"/>
<rect x="493.00" y="314.00" width="1.00" height="8.80" fill="#fff"/>
<rect x="497.70" y="314.00" width="1.00" height="8.80" fill="#fff"/>
<rect x="502.40" y="314.00" width="1.00" height="8.80" fill="#fff"/>
<rect x="507.10" y="314.00" width="1.00" height="8.80" fill="#fff"/>
<rect x="511.80" y="314.00" width="1.00" height="8.80" fill="#fff"/>
<rect x="516.50" y="314.00" width="1.00" height="8.80" fill="#fff"/>
<rect x="521.20" y="314.00" width="1.00" height="8.80" fill="#fff"/>
<rect x="525.90" y="314.00" width="1.00" height="8.80" fill="#fff"/>
<rect x="530.60" y="314.00" width="1.00" height="8.80" fill="#fff"/>
<rect x="535.30" y="314.00" width="1.00" height="8.80" fill="#fff"/>
<rect x="460.10" y="318.60" width="78.50" height="1.00" fill="#fff"/>
<rect x="460.10" y="321.80" width="78.50" height="1.00" fill="#fff"/>
<rect x="536.60" y="314.20" width="1.60" height="2.60" fill="#fff"/>
<rect x="532.00" y="280.90" width="24.90" height="9.90" fill="#000"/>
<rect x="533.10" y="282.20" width="1.00" height="7.50" fill="#fff"/>
<rect x="541.90" y="282.20" width="1.00" height="7.50" fill="#fff"/>
<rect x="546.80" y="282.20" width="1.00" height="7.50" fill="#fff"/>
<rect x="551.20" y="282.20" width="1.00" height="7.50" fill="#fff"/>
<rect x="533.40" y="285.35" width="22.60" height="1.00" fill="#fff"/>
<rect x="553.00" y="283.00" width="2.00" height="1.90" fill="#fff"/>
<rect x="532.00" y="296.00" width="24.90" height="9.90" fill="#000"/>
<rect x="533.10" y="297.30" width="1.00" height="7.50" fill="#fff"/>
<rect x="541.90" y="297.30" width="1.00" height="7.50" fill="#fff"/>
<rect x="546.80" y="297.30" width="1.00" height="7.50" fill="#fff"/>
<rect x="551.20" y="297.30" width="1.00" height="7.50" fill="#fff"/>
<rect x="533.40" y="300.45" width="22.60" height="1.00" fill="#fff"/>
<rect x="553.00" y="298.10" width="2.00" height="1.90" fill="#fff"/>
<rect x="583.40" y="308.50" width="31.20" height="31.10" fill="#fff" stroke="#000" stroke-width="1"/>
<rect x="610.50" y="308.50" width="4.50" height="31.10" fill="#000"/>
<rect x="574.25" y="311.00" width="5.75" height="24.60" fill="#000"/>
<rect x="575.10" y="316.00" width="3.80" height="1.00" fill="#fff"/>
<rect x="575.10" y="320.90" width="3.80" height="1.00" fill="#fff"/>
<rect x="575.10" y="325.00" width="3.80" height="1.00" fill="#fff"/>
<rect x="575.10" y="329.70" width="3.80" height="1.00" fill="#fff"/>
<rect x="575.80" y="332.00" width="2.30" height="2.00" fill="#fff"/>
<rect x="550.25" y="325.50" width="18.55" height="85.00" fill="#000"/>
<rect x="552.20" y="327.00" width="6.70" height="82.20" fill="#fff"/>
<rect x="560.80" y="327.00" width="6.70" height="82.20" fill="#fff"/>
<rect x="550.25" y="321.30" width="18.25" height="6.70" fill="#000"/>
<rect x="551.20" y="322.00" width="2.80" height="1.00" fill="#fff"/>
<rect x="557.50" y="322.00" width="2.50" height="1.00" fill="#fff"/>
<rect x="561.30" y="322.20" width="2.90" height="2.00" fill="#fff"/>
<rect x="562.80" y="326.50" width="1.90" height="1.50" fill="#fff"/>
<line x1="565.00" y1="327.00" x2="565.00" y2="410.00" stroke="#000" stroke-width="1.6"/>
<rect x="552.60" y="334.10" width="5.00" height="5.20" fill="#000"/>
<rect x="553.70" y="335.20" width="2.70" height="3.00" fill="#fff"/>
<rect x="558.90" y="339.50" width="1.90" height="1.20" fill="#fff"/>
<rect x="552.60" y="341.40" width="5.00" height="5.20" fill="#000"/>
<rect x="553.70" y="342.50" width="2.70" height="3.00" fill="#fff"/>
<rect x="558.90" y="346.80" width="1.90" height="1.20" fill="#fff"/>
<rect x="552.60" y="348.70" width="5.00" height="5.20" fill="#000"/>
<rect x="553.70" y="349.80" width="2.70" height="3.00" fill="#fff"/>
<rect x="558.90" y="354.10" width="1.90" height="1.20" fill="#fff"/>
<rect x="552.60" y="356.00" width="5.00" height="5.20" fill="#000"/>
<rect x="553.70" y="357.10" width="2.70" height="3.00" fill="#fff"/>
<rect x="558.90" y="361.40" width="1.90" height="1.20" fill="#fff"/>
<rect x="552.60" y="363.30" width="5.00" height="5.20" fill="#000"/>
<rect x="553.70" y="364.40" width="2.70" height="3.00" fill="#fff"/>
<rect x="558.90" y="368.70" width="1.90" height="1.20" fill="#fff"/>
<rect x="552.60" y="370.60" width="5.00" height="5.20" fill="#000"/>
<rect x="553.70" y="371.70" width="2.70" height="3.00" fill="#fff"/>
<rect x="558.90" y="376.00" width="1.90" height="1.20" fill="#fff"/>
<rect x="552.60" y="377.90" width="5.00" height="5.20" fill="#000"/>
<rect x="553.70" y="379.00" width="2.70" height="3.00" fill="#fff"/>
<rect x="558.90" y="383.30" width="1.90" height="1.20" fill="#fff"/>
<rect x="552.60" y="385.20" width="5.00" height="5.20" fill="#000"/>
<rect x="553.70" y="386.30" width="2.70" height="3.00" fill="#fff"/>
<rect x="558.90" y="390.60" width="1.90" height="1.20" fill="#fff"/>
<rect x="552.60" y="392.50" width="5.00" height="5.20" fill="#000"/>
<rect x="553.70" y="393.60" width="2.70" height="3.00" fill="#fff"/>
<rect x="558.90" y="397.90" width="1.90" height="1.20" fill="#fff"/>
<rect x="552.60" y="399.80" width="5.00" height="5.20" fill="#000"/>
<rect x="553.70" y="400.90" width="2.70" height="3.00" fill="#fff"/>
<rect x="558.90" y="405.20" width="1.90" height="1.20" fill="#fff"/>
<ellipse cx="565" cy="330.55" rx="2.2" ry="2.4" fill="#000"/>
<ellipse cx="565" cy="337.50" rx="2.2" ry="2.4" fill="#000"/>
<ellipse cx="565" cy="344.45" rx="2.2" ry="2.4" fill="#000"/>
<ellipse cx="565" cy="351.40" rx="2.2" ry="2.4" fill="#000"/>
<ellipse cx="565" cy="358.35" rx="2.2" ry="2.4" fill="#000"/>
<ellipse cx="565" cy="365.30" rx="2.2" ry="2.4" fill="#000"/>
<ellipse cx="565" cy="372.25" rx="2.2" ry="2.4" fill="#000"/>
<ellipse cx="565" cy="379.20" rx="2.2" ry="2.4" fill="#000"/>
<ellipse cx="565" cy="386.15" rx="2.2" ry="2.4" fill="#000"/>
<ellipse cx="565" cy="393.10" rx="2.2" ry="2.4" fill="#000"/>
<ellipse cx="565" cy="400.05" rx="2.2" ry="2.4" fill="#000"/>
<ellipse cx="565" cy="407.00" rx="2.2" ry="2.4" fill="#000"/>
<polygon points="615.50,350.80 613.00,350.80 613.00,353.50 610.50,353.50 610.50,357.00 593.00,357.00 590.50,359.50 590.50,385.00 593.00,387.50 610.50,387.50 610.50,390.00 613.00,390.00 613.00,392.50 615.50,392.50" fill="#000"/>
<rect x="585.20" y="364.20" width="5.30" height="8.40" fill="#fff" stroke="#000" stroke-width="1.1"/>
<rect x="585.20" y="372.60" width="5.30" height="7.40" fill="#fff" stroke="#000" stroke-width="1.1"/>
<g shape-rendering="crispEdges">
<rect x="321.20" y="343.20" width="221.50" height="52.60" fill="#000"/>
<rect x="321.20" y="356.50" width="221.50" height="1.00" fill="#fff"/>
<rect x="321.20" y="368.00" width="221.50" height="1.00" fill="#fff"/>
<rect x="321.20" y="370.00" width="221.50" height="1.00" fill="#fff"/>
<rect x="321.20" y="382.50" width="221.50" height="1.00" fill="#fff"/>
<rect x="322.40" y="344.70" width="4.40" height="1.20" fill="#fff"/>
<rect x="322.40" y="347.20" width="4.40" height="3.00" fill="#fff"/>
<rect x="322.40" y="351.50" width="4.40" height="3.10" fill="#fff"/>
<rect x="537.00" y="344.70" width="4.60" height="1.20" fill="#fff"/>
<rect x="537.00" y="347.20" width="4.60" height="3.00" fill="#fff"/>
<rect x="537.00" y="351.50" width="4.60" height="3.10" fill="#fff"/>
<rect x="331.00" y="345.80" width="6.00" height="7.80" fill="#fff"/>
<rect x="331.00" y="348.40" width="3.60" height="2.40" fill="#000"/>
<rect x="335.20" y="351.80" width="1.80" height="1.80" fill="#000"/>
<rect x="526.90" y="345.80" width="6.30" height="7.80" fill="#fff"/>
<rect x="529.30" y="348.40" width="3.90" height="2.40" fill="#000"/>
<rect x="526.90" y="351.80" width="1.80" height="1.80" fill="#000"/>
<rect x="338.40" y="344.80" width="1.10" height="9.30" fill="#fff"/>
<rect x="337.40" y="352.60" width="2.10" height="1.50" fill="#fff"/>
<rect x="524.00" y="344.80" width="1.10" height="9.30" fill="#fff"/>
<rect x="524.00" y="352.60" width="2.20" height="1.50" fill="#fff"/>
<rect x="338.40" y="344.50" width="186.70" height="1.00" fill="#fff"/>
<rect x="339.00" y="353.40" width="185.50" height="1.00" fill="#fff"/>
<rect x="344.00" y="346.40" width="1.00" height="3.00" fill="#fff"/>
<rect x="345.80" y="346.40" width="1.00" height="3.00" fill="#fff"/>
<rect x="347.60" y="346.40" width="1.00" height="3.00" fill="#fff"/>
<rect x="349.40" y="346.40" width="1.00" height="3.00" fill="#fff"/>
<rect x="351.20" y="346.40" width="1.00" height="3.00" fill="#fff"/>
<rect x="359.20" y="346.40" width="1.00" height="3.00" fill="#fff"/>
<rect x="361.00" y="346.40" width="1.00" height="3.00" fill="#fff"/>
<rect x="362.80" y="346.40" width="1.00" height="3.00" fill="#fff"/>
<rect x="364.60" y="346.40" width="1.00" height="3.00" fill="#fff"/>
<rect x="376.00" y="346.40" width="1.00" height="3.00" fill="#fff"/>
<rect x="377.80" y="346.40" width="1.00" height="3.00" fill="#fff"/>
<rect x="379.60" y="346.40" width="1.00" height="3.00" fill="#fff"/>
<rect x="389.00" y="346.40" width="1.00" height="3.00" fill="#fff"/>
<rect x="390.80" y="346.40" width="1.00" height="3.00" fill="#fff"/>
<rect x="392.60" y="346.40" width="1.00" height="3.00" fill="#fff"/>
<rect x="394.40" y="346.40" width="1.00" height="3.00" fill="#fff"/>
<rect x="396.20" y="346.40" width="1.00" height="3.00" fill="#fff"/>
<rect x="398.00" y="346.40" width="1.00" height="3.00" fill="#fff"/>
<rect x="399.80" y="346.40" width="1.00" height="3.00" fill="#fff"/>
<rect x="401.60" y="346.40" width="1.00" height="3.00" fill="#fff"/>
<rect x="403.40" y="346.40" width="1.00" height="3.00" fill="#fff"/>
<rect x="405.20" y="346.40" width="1.00" height="3.00" fill="#fff"/>
<rect x="407.00" y="346.40" width="1.00" height="3.00" fill="#fff"/>
<rect x="420.60" y="346.40" width="1.00" height="3.00" fill="#fff"/>
<rect x="422.40" y="346.40" width="1.00" height="3.00" fill="#fff"/>
<rect x="424.20" y="346.40" width="1.00" height="3.00" fill="#fff"/>
<rect x="426.00" y="346.40" width="1.00" height="3.00" fill="#fff"/>
<rect x="442.20" y="346.40" width="1.00" height="3.00" fill="#fff"/>
<rect x="444.00" y="346.40" width="1.00" height="3.00" fill="#fff"/>
<rect x="445.80" y="346.40" width="1.00" height="3.00" fill="#fff"/>
<rect x="447.60" y="346.40" width="1.00" height="3.00" fill="#fff"/>
<rect x="456.80" y="346.40" width="1.00" height="3.00" fill="#fff"/>
<rect x="458.60" y="346.40" width="1.00" height="3.00" fill="#fff"/>
<rect x="460.40" y="346.40" width="1.00" height="3.00" fill="#fff"/>
<rect x="462.20" y="346.40" width="1.00" height="3.00" fill="#fff"/>
<rect x="464.00" y="346.40" width="1.00" height="3.00" fill="#fff"/>
<rect x="473.70" y="346.40" width="1.00" height="3.00" fill="#fff"/>
<rect x="475.50" y="346.40" width="1.00" height="3.00" fill="#fff"/>
<rect x="477.30" y="346.40" width="1.00" height="3.00" fill="#fff"/>
<rect x="479.10" y="346.40" width="1.00" height="3.00" fill="#fff"/>
<rect x="486.70" y="346.40" width="1.00" height="3.00" fill="#fff"/>
<rect x="488.50" y="346.40" width="1.00" height="3.00" fill="#fff"/>
<rect x="490.30" y="346.40" width="1.00" height="3.00" fill="#fff"/>
<rect x="492.10" y="346.40" width="1.00" height="3.00" fill="#fff"/>
<rect x="493.90" y="346.40" width="1.00" height="3.00" fill="#fff"/>
<rect x="495.70" y="346.40" width="1.00" height="3.00" fill="#fff"/>
<rect x="502.00" y="346.40" width="1.00" height="3.00" fill="#fff"/>
<rect x="503.80" y="346.40" width="1.00" height="3.00" fill="#fff"/>
<rect x="505.60" y="346.40" width="1.00" height="3.00" fill="#fff"/>
<rect x="507.40" y="346.40" width="1.00" height="3.00" fill="#fff"/>
<rect x="509.20" y="346.40" width="1.00" height="3.00" fill="#fff"/>
<rect x="511.00" y="346.40" width="1.00" height="3.00" fill="#fff"/>
<rect x="517.40" y="346.40" width="1.00" height="3.00" fill="#fff"/>
<rect x="519.20" y="346.40" width="1.00" height="3.00" fill="#fff"/>
<rect x="521.00" y="346.40" width="1.00" height="3.00" fill="#fff"/>
<rect x="428.00" y="344.40" width="7.00" height="3.40" fill="#fff"/>
<rect x="322.40" y="357.80" width="4.40" height="1.20" fill="#fff"/>
<rect x="322.40" y="360.30" width="4.40" height="3.00" fill="#fff"/>
<rect x="322.40" y="364.60" width="4.40" height="3.10" fill="#fff"/>
<rect x="537.00" y="357.80" width="4.60" height="1.20" fill="#fff"/>
<rect x="537.00" y="360.30" width="4.60" height="3.00" fill="#fff"/>
<rect x="537.00" y="364.60" width="4.60" height="3.10" fill="#fff"/>
<rect x="331.00" y="358.90" width="6.00" height="7.80" fill="#fff"/>
<rect x="331.00" y="361.50" width="3.60" height="2.40" fill="#000"/>
<rect x="335.20" y="364.90" width="1.80" height="1.80" fill="#000"/>
<rect x="526.90" y="358.90" width="6.30" height="7.80" fill="#fff"/>
<rect x="529.30" y="361.50" width="3.90" height="2.40" fill="#000"/>
<rect x="526.90" y="364.90" width="1.80" height="1.80" fill="#000"/>
<rect x="338.40" y="357.90" width="1.10" height="9.30" fill="#fff"/>
<rect x="337.40" y="365.70" width="2.10" height="1.50" fill="#fff"/>
<rect x="524.00" y="357.90" width="1.10" height="9.30" fill="#fff"/>
<rect x="524.00" y="365.70" width="2.20" height="1.50" fill="#fff"/>
<rect x="339.00" y="366.50" width="185.50" height="1.00" fill="#fff"/>
<rect x="344.00" y="359.50" width="1.00" height="3.00" fill="#fff"/>
<rect x="345.80" y="359.50" width="1.00" height="3.00" fill="#fff"/>
<rect x="347.60" y="359.50" width="1.00" height="3.00" fill="#fff"/>
<rect x="349.40" y="359.50" width="1.00" height="3.00" fill="#fff"/>
<rect x="351.20" y="359.50" width="1.00" height="3.00" fill="#fff"/>
<rect x="359.20" y="359.50" width="1.00" height="3.00" fill="#fff"/>
<rect x="361.00" y="359.50" width="1.00" height="3.00" fill="#fff"/>
<rect x="362.80" y="359.50" width="1.00" height="3.00" fill="#fff"/>
<rect x="364.60" y="359.50" width="1.00" height="3.00" fill="#fff"/>
<rect x="376.00" y="359.50" width="1.00" height="3.00" fill="#fff"/>
<rect x="377.80" y="359.50" width="1.00" height="3.00" fill="#fff"/>
<rect x="379.60" y="359.50" width="1.00" height="3.00" fill="#fff"/>
<rect x="389.00" y="359.50" width="1.00" height="3.00" fill="#fff"/>
<rect x="390.80" y="359.50" width="1.00" height="3.00" fill="#fff"/>
<rect x="392.60" y="359.50" width="1.00" height="3.00" fill="#fff"/>
<rect x="394.40" y="359.50" width="1.00" height="3.00" fill="#fff"/>
<rect x="396.20" y="359.50" width="1.00" height="3.00" fill="#fff"/>
<rect x="398.00" y="359.50" width="1.00" height="3.00" fill="#fff"/>
<rect x="399.80" y="359.50" width="1.00" height="3.00" fill="#fff"/>
<rect x="401.60" y="359.50" width="1.00" height="3.00" fill="#fff"/>
<rect x="403.40" y="359.50" width="1.00" height="3.00" fill="#fff"/>
<rect x="405.20" y="359.50" width="1.00" height="3.00" fill="#fff"/>
<rect x="407.00" y="359.50" width="1.00" height="3.00" fill="#fff"/>
<rect x="420.60" y="359.50" width="1.00" height="3.00" fill="#fff"/>
<rect x="422.40" y="359.50" width="1.00" height="3.00" fill="#fff"/>
<rect x="424.20" y="359.50" width="1.00" height="3.00" fill="#fff"/>
<rect x="426.00" y="359.50" width="1.00" height="3.00" fill="#fff"/>
<rect x="442.20" y="359.50" width="1.00" height="3.00" fill="#fff"/>
<rect x="444.00" y="359.50" width="1.00" height="3.00" fill="#fff"/>
<rect x="445.80" y="359.50" width="1.00" height="3.00" fill="#fff"/>
<rect x="447.60" y="359.50" width="1.00" height="3.00" fill="#fff"/>
<rect x="456.80" y="359.50" width="1.00" height="3.00" fill="#fff"/>
<rect x="458.60" y="359.50" width="1.00" height="3.00" fill="#fff"/>
<rect x="460.40" y="359.50" width="1.00" height="3.00" fill="#fff"/>
<rect x="462.20" y="359.50" width="1.00" height="3.00" fill="#fff"/>
<rect x="464.00" y="359.50" width="1.00" height="3.00" fill="#fff"/>
<rect x="473.70" y="359.50" width="1.00" height="3.00" fill="#fff"/>
<rect x="475.50" y="359.50" width="1.00" height="3.00" fill="#fff"/>
<rect x="477.30" y="359.50" width="1.00" height="3.00" fill="#fff"/>
<rect x="479.10" y="359.50" width="1.00" height="3.00" fill="#fff"/>
<rect x="486.70" y="359.50" width="1.00" height="3.00" fill="#fff"/>
<rect x="488.50" y="359.50" width="1.00" height="3.00" fill="#fff"/>
<rect x="490.30" y="359.50" width="1.00" height="3.00" fill="#fff"/>
<rect x="492.10" y="359.50" width="1.00" height="3.00" fill="#fff"/>
<rect x="493.90" y="359.50" width="1.00" height="3.00" fill="#fff"/>
<rect x="495.70" y="359.50" width="1.00" height="3.00" fill="#fff"/>
<rect x="502.00" y="359.50" width="1.00" height="3.00" fill="#fff"/>
<rect x="503.80" y="359.50" width="1.00" height="3.00" fill="#fff"/>
<rect x="505.60" y="359.50" width="1.00" height="3.00" fill="#fff"/>
<rect x="507.40" y="359.50" width="1.00" height="3.00" fill="#fff"/>
<rect x="509.20" y="359.50" width="1.00" height="3.00" fill="#fff"/>
<rect x="511.00" y="359.50" width="1.00" height="3.00" fill="#fff"/>
<rect x="517.40" y="359.50" width="1.00" height="3.00" fill="#fff"/>
<rect x="519.20" y="359.50" width="1.00" height="3.00" fill="#fff"/>
<rect x="521.00" y="359.50" width="1.00" height="3.00" fill="#fff"/>
<rect x="428.00" y="363.70" width="7.00" height="3.80" fill="#fff"/>
<rect x="322.40" y="371.70" width="4.40" height="1.20" fill="#fff"/>
<rect x="322.40" y="374.20" width="4.40" height="3.00" fill="#fff"/>
<rect x="322.40" y="378.50" width="4.40" height="3.10" fill="#fff"/>
<rect x="537.00" y="371.70" width="4.60" height="1.20" fill="#fff"/>
<rect x="537.00" y="374.20" width="4.60" height="3.00" fill="#fff"/>
<rect x="537.00" y="378.50" width="4.60" height="3.10" fill="#fff"/>
<rect x="331.00" y="372.80" width="6.00" height="7.80" fill="#fff"/>
<rect x="331.00" y="375.40" width="3.60" height="2.40" fill="#000"/>
<rect x="335.20" y="378.80" width="1.80" height="1.80" fill="#000"/>
<rect x="526.90" y="372.80" width="6.30" height="7.80" fill="#fff"/>
<rect x="529.30" y="375.40" width="3.90" height="2.40" fill="#000"/>
<rect x="526.90" y="378.80" width="1.80" height="1.80" fill="#000"/>
<rect x="338.40" y="371.80" width="1.10" height="9.30" fill="#fff"/>
<rect x="337.40" y="379.60" width="2.10" height="1.50" fill="#fff"/>
<rect x="524.00" y="371.80" width="1.10" height="9.30" fill="#fff"/>
<rect x="524.00" y="379.60" width="2.20" height="1.50" fill="#fff"/>
<rect x="339.00" y="380.40" width="185.50" height="1.00" fill="#fff"/>
<rect x="344.00" y="373.40" width="1.00" height="3.00" fill="#fff"/>
<rect x="345.80" y="373.40" width="1.00" height="3.00" fill="#fff"/>
<rect x="347.60" y="373.40" width="1.00" height="3.00" fill="#fff"/>
<rect x="349.40" y="373.40" width="1.00" height="3.00" fill="#fff"/>
<rect x="351.20" y="373.40" width="1.00" height="3.00" fill="#fff"/>
<rect x="359.20" y="373.40" width="1.00" height="3.00" fill="#fff"/>
<rect x="361.00" y="373.40" width="1.00" height="3.00" fill="#fff"/>
<rect x="362.80" y="373.40" width="1.00" height="3.00" fill="#fff"/>
<rect x="364.60" y="373.40" width="1.00" height="3.00" fill="#fff"/>
<rect x="376.00" y="373.40" width="1.00" height="3.00" fill="#fff"/>
<rect x="377.80" y="373.40" width="1.00" height="3.00" fill="#fff"/>
<rect x="379.60" y="373.40" width="1.00" height="3.00" fill="#fff"/>
<rect x="389.00" y="373.40" width="1.00" height="3.00" fill="#fff"/>
<rect x="390.80" y="373.40" width="1.00" height="3.00" fill="#fff"/>
<rect x="392.60" y="373.40" width="1.00" height="3.00" fill="#fff"/>
<rect x="394.40" y="373.40" width="1.00" height="3.00" fill="#fff"/>
<rect x="396.20" y="373.40" width="1.00" height="3.00" fill="#fff"/>
<rect x="398.00" y="373.40" width="1.00" height="3.00" fill="#fff"/>
<rect x="399.80" y="373.40" width="1.00" height="3.00" fill="#fff"/>
<rect x="401.60" y="373.40" width="1.00" height="3.00" fill="#fff"/>
<rect x="403.40" y="373.40" width="1.00" height="3.00" fill="#fff"/>
<rect x="405.20" y="373.40" width="1.00" height="3.00" fill="#fff"/>
<rect x="407.00" y="373.40" width="1.00" height="3.00" fill="#fff"/>
<rect x="420.60" y="373.40" width="1.00" height="3.00" fill="#fff"/>
<rect x="422.40" y="373.40" width="1.00" height="3.00" fill="#fff"/>
<rect x="424.20" y="373.40" width="1.00" height="3.00" fill="#fff"/>
<rect x="426.00" y="373.40" width="1.00" height="3.00" fill="#fff"/>
<rect x="442.20" y="373.40" width="1.00" height="3.00" fill="#fff"/>
<rect x="444.00" y="373.40" width="1.00" height="3.00" fill="#fff"/>
<rect x="445.80" y="373.40" width="1.00" height="3.00" fill="#fff"/>
<rect x="447.60" y="373.40" width="1.00" height="3.00" fill="#fff"/>
<rect x="456.80" y="373.40" width="1.00" height="3.00" fill="#fff"/>
<rect x="458.60" y="373.40" width="1.00" height="3.00" fill="#fff"/>
<rect x="460.40" y="373.40" width="1.00" height="3.00" fill="#fff"/>
<rect x="462.20" y="373.40" width="1.00" height="3.00" fill="#fff"/>
<rect x="464.00" y="373.40" width="1.00" height="3.00" fill="#fff"/>
<rect x="473.70" y="373.40" width="1.00" height="3.00" fill="#fff"/>
<rect x="475.50" y="373.40" width="1.00" height="3.00" fill="#fff"/>
<rect x="477.30" y="373.40" width="1.00" height="3.00" fill="#fff"/>
<rect x="479.10" y="373.40" width="1.00" height="3.00" fill="#fff"/>
<rect x="486.70" y="373.40" width="1.00" height="3.00" fill="#fff"/>
<rect x="488.50" y="373.40" width="1.00" height="3.00" fill="#fff"/>
<rect x="490.30" y="373.40" width="1.00" height="3.00" fill="#fff"/>
<rect x="492.10" y="373.40" width="1.00" height="3.00" fill="#fff"/>
<rect x="493.90" y="373.40" width="1.00" height="3.00" fill="#fff"/>
<rect x="495.70" y="373.40" width="1.00" height="3.00" fill="#fff"/>
<rect x="502.00" y="373.40" width="1.00" height="3.00" fill="#fff"/>
<rect x="503.80" y="373.40" width="1.00" height="3.00" fill="#fff"/>
<rect x="505.60" y="373.40" width="1.00" height="3.00" fill="#fff"/>
<rect x="507.40" y="373.40" width="1.00" height="3.00" fill="#fff"/>
<rect x="509.20" y="373.40" width="1.00" height="3.00" fill="#fff"/>
<rect x="511.00" y="373.40" width="1.00" height="3.00" fill="#fff"/>
<rect x="517.40" y="373.40" width="1.00" height="3.00" fill="#fff"/>
<rect x="519.20" y="373.40" width="1.00" height="3.00" fill="#fff"/>
<rect x="521.00" y="373.40" width="1.00" height="3.00" fill="#fff"/>
<rect x="428.00" y="371.40" width="7.00" height="3.40" fill="#fff"/>
<rect x="322.40" y="384.30" width="4.40" height="1.20" fill="#fff"/>
<rect x="322.40" y="386.80" width="4.40" height="3.00" fill="#fff"/>
<rect x="322.40" y="391.10" width="4.40" height="3.10" fill="#fff"/>
<rect x="537.00" y="384.30" width="4.60" height="1.20" fill="#fff"/>
<rect x="537.00" y="386.80" width="4.60" height="3.00" fill="#fff"/>
<rect x="537.00" y="391.10" width="4.60" height="3.10" fill="#fff"/>
<rect x="331.00" y="385.40" width="6.00" height="7.80" fill="#fff"/>
<rect x="331.00" y="388.00" width="3.60" height="2.40" fill="#000"/>
<rect x="335.20" y="391.40" width="1.80" height="1.80" fill="#000"/>
<rect x="526.90" y="385.40" width="6.30" height="7.80" fill="#fff"/>
<rect x="529.30" y="388.00" width="3.90" height="2.40" fill="#000"/>
<rect x="526.90" y="391.40" width="1.80" height="1.80" fill="#000"/>
<rect x="338.40" y="384.40" width="1.10" height="9.30" fill="#fff"/>
<rect x="337.40" y="392.20" width="2.10" height="1.50" fill="#fff"/>
<rect x="524.00" y="384.40" width="1.10" height="9.30" fill="#fff"/>
<rect x="524.00" y="392.20" width="2.20" height="1.50" fill="#fff"/>
<rect x="339.00" y="393.00" width="185.50" height="1.00" fill="#fff"/>
<rect x="344.00" y="386.00" width="1.00" height="3.00" fill="#fff"/>
<rect x="345.80" y="386.00" width="1.00" height="3.00" fill="#fff"/>
<rect x="347.60" y="386.00" width="1.00" height="3.00" fill="#fff"/>
<rect x="349.40" y="386.00" width="1.00" height="3.00" fill="#fff"/>
<rect x="351.20" y="386.00" width="1.00" height="3.00" fill="#fff"/>
<rect x="359.20" y="386.00" width="1.00" height="3.00" fill="#fff"/>
<rect x="361.00" y="386.00" width="1.00" height="3.00" fill="#fff"/>
<rect x="362.80" y="386.00" width="1.00" height="3.00" fill="#fff"/>
<rect x="364.60" y="386.00" width="1.00" height="3.00" fill="#fff"/>
<rect x="376.00" y="386.00" width="1.00" height="3.00" fill="#fff"/>
<rect x="377.80" y="386.00" width="1.00" height="3.00" fill="#fff"/>
<rect x="379.60" y="386.00" width="1.00" height="3.00" fill="#fff"/>
<rect x="389.00" y="386.00" width="1.00" height="3.00" fill="#fff"/>
<rect x="390.80" y="386.00" width="1.00" height="3.00" fill="#fff"/>
<rect x="392.60" y="386.00" width="1.00" height="3.00" fill="#fff"/>
<rect x="394.40" y="386.00" width="1.00" height="3.00" fill="#fff"/>
<rect x="396.20" y="386.00" width="1.00" height="3.00" fill="#fff"/>
<rect x="398.00" y="386.00" width="1.00" height="3.00" fill="#fff"/>
<rect x="399.80" y="386.00" width="1.00" height="3.00" fill="#fff"/>
<rect x="401.60" y="386.00" width="1.00" height="3.00" fill="#fff"/>
<rect x="403.40" y="386.00" width="1.00" height="3.00" fill="#fff"/>
<rect x="405.20" y="386.00" width="1.00" height="3.00" fill="#fff"/>
<rect x="407.00" y="386.00" width="1.00" height="3.00" fill="#fff"/>
<rect x="420.60" y="386.00" width="1.00" height="3.00" fill="#fff"/>
<rect x="422.40" y="386.00" width="1.00" height="3.00" fill="#fff"/>
<rect x="424.20" y="386.00" width="1.00" height="3.00" fill="#fff"/>
<rect x="426.00" y="386.00" width="1.00" height="3.00" fill="#fff"/>
<rect x="442.20" y="386.00" width="1.00" height="3.00" fill="#fff"/>
<rect x="444.00" y="386.00" width="1.00" height="3.00" fill="#fff"/>
<rect x="445.80" y="386.00" width="1.00" height="3.00" fill="#fff"/>
<rect x="447.60" y="386.00" width="1.00" height="3.00" fill="#fff"/>
<rect x="456.80" y="386.00" width="1.00" height="3.00" fill="#fff"/>
<rect x="458.60" y="386.00" width="1.00" height="3.00" fill="#fff"/>
<rect x="460.40" y="386.00" width="1.00" height="3.00" fill="#fff"/>
<rect x="462.20" y="386.00" width="1.00" height="3.00" fill="#fff"/>
<rect x="464.00" y="386.00" width="1.00" height="3.00" fill="#fff"/>
<rect x="473.70" y="386.00" width="1.00" height="3.00" fill="#fff"/>
<rect x="475.50" y="386.00" width="1.00" height="3.00" fill="#fff"/>
<rect x="477.30" y="386.00" width="1.00" height="3.00" fill="#fff"/>
<rect x="479.10" y="386.00" width="1.00" height="3.00" fill="#fff"/>
<rect x="486.70" y="386.00" width="1.00" height="3.00" fill="#fff"/>
<rect x="488.50" y="386.00" width="1.00" height="3.00" fill="#fff"/>
<rect x="490.30" y="386.00" width="1.00" height="3.00" fill="#fff"/>
<rect x="492.10" y="386.00" width="1.00" height="3.00" fill="#fff"/>
<rect x="493.90" y="386.00" width="1.00" height="3.00" fill="#fff"/>
<rect x="495.70" y="386.00" width="1.00" height="3.00" fill="#fff"/>
<rect x="502.00" y="386.00" width="1.00" height="3.00" fill="#fff"/>
<rect x="503.80" y="386.00" width="1.00" height="3.00" fill="#fff"/>
<rect x="505.60" y="386.00" width="1.00" height="3.00" fill="#fff"/>
<rect x="507.40" y="386.00" width="1.00" height="3.00" fill="#fff"/>
<rect x="509.20" y="386.00" width="1.00" height="3.00" fill="#fff"/>
<rect x="511.00" y="386.00" width="1.00" height="3.00" fill="#fff"/>
<rect x="517.40" y="386.00" width="1.00" height="3.00" fill="#fff"/>
<rect x="519.20" y="386.00" width="1.00" height="3.00" fill="#fff"/>
<rect x="521.00" y="386.00" width="1.00" height="3.00" fill="#fff"/>
<rect x="428.00" y="390.20" width="7.00" height="3.80" fill="#fff"/>
</g>
<rect x="409.40" y="349.60" width="45.50" height="12.10" fill="#000"/>
<rect x="410.20" y="350.20" width="43.90" height="10.90" fill="#fff"/>
<text x="432.30" y="359.70" font-size="10.4" fill="#000" text-anchor="middle" textLength="39.80" lengthAdjust="spacingAndGlyphs">BANK 0</text>
<rect x="409.40" y="376.40" width="45.50" height="12.10" fill="#000"/>
<rect x="410.20" y="377.00" width="43.90" height="10.90" fill="#fff"/>
<text x="432.30" y="386.80" font-size="10.4" fill="#000" text-anchor="middle" textLength="39.80" lengthAdjust="spacingAndGlyphs">BANK 1</text>
<line x1="42.80" y1="26.00" x2="47.80" y2="26.00" stroke="#000" stroke-width="1.2"/>
<line x1="42.80" y1="54.00" x2="49.00" y2="54.00" stroke="#000" stroke-width="3.0"/>
<line x1="42.80" y1="74.80" x2="49.00" y2="74.80" stroke="#000" stroke-width="3.0"/>
<line x1="42.80" y1="90.83" x2="49.30" y2="91.00" stroke="#000" stroke-width="3.0"/>
<line x1="42.80" y1="105.87" x2="49.30" y2="105.70" stroke="#000" stroke-width="3.0"/>
<line x1="42.80" y1="120.98" x2="49.30" y2="120.70" stroke="#000" stroke-width="3.0"/>
<line x1="42.80" y1="136.77" x2="49.30" y2="137.00" stroke="#000" stroke-width="3.0"/>
<line x1="42.80" y1="151.38" x2="49.30" y2="151.10" stroke="#000" stroke-width="3.0"/>
<line x1="35.60" y1="178.50" x2="42.50" y2="178.50" stroke="#000" stroke-width="3.0"/>
<line x1="41.00" y1="255.80" x2="48.20" y2="255.80" stroke="#000" stroke-width="3.0"/>
<line x1="41.30" y1="346.80" x2="49.20" y2="346.80" stroke="#000" stroke-width="3.0"/>
<line x1="118.30" y1="54.20" x2="118.30" y2="62.00" stroke="#000" stroke-width="3.0"/>
<line x1="195.00" y1="96.40" x2="195.00" y2="104.00" stroke="#000" stroke-width="3.0"/>
<line x1="329.30" y1="247.80" x2="321.20" y2="247.80" stroke="#000" stroke-width="3.0"/>
<line x1="365.00" y1="279.90" x2="372.50" y2="279.90" stroke="#000" stroke-width="3.0"/>
<line x1="408.10" y1="288.20" x2="408.10" y2="296.50" stroke="#000" stroke-width="2.6"/>
<line x1="386.00" y1="330.00" x2="386.00" y2="322.50" stroke="#000" stroke-width="2.6"/>
<line x1="499.80" y1="288.20" x2="499.80" y2="296.50" stroke="#000" stroke-width="2.6"/>
<line x1="504.40" y1="331.10" x2="504.40" y2="323.00" stroke="#000" stroke-width="2.6"/>
<line x1="565.60" y1="300.60" x2="558.00" y2="300.60" stroke="#000" stroke-width="3.0"/>
<line x1="538.50" y1="177.00" x2="545.00" y2="177.00" stroke="#000" stroke-width="3.0"/>
<line x1="600.50" y1="162.00" x2="592.00" y2="162.00" stroke="#000" stroke-width="3.0"/>
<line x1="561.00" y1="330.20" x2="574.50" y2="330.20" stroke="#000" stroke-width="2.4"/>
<polygon points="568.00,327.20 574.50,330.20 568.00,333.20" fill="#000"/>
<rect x="17.20" y="19.10" width="20.70" height="14.70" fill="#000" rx="2.4"/>
<rect x="18.75" y="20.70" width="17.15" height="11.10" fill="#fff" rx="1.3"/>
<text x="26.80" y="30.38" font-size="10.5" fill="#000" text-anchor="middle" textLength="11.53" lengthAdjust="spacingAndGlyphs" stroke="#000" stroke-width="0.15">J1</text>
<rect x="17.20" y="47.00" width="20.70" height="14.30" fill="#000" rx="2.4"/>
<rect x="18.75" y="48.60" width="17.15" height="10.70" fill="#fff" rx="1.3"/>
<text x="26.80" y="58.08" font-size="10.5" fill="#000" text-anchor="middle" textLength="11.53" lengthAdjust="spacingAndGlyphs" stroke="#000" stroke-width="0.15">J2</text>
<rect x="17.20" y="67.30" width="20.50" height="14.80" fill="#000" rx="2.4"/>
<rect x="18.75" y="68.90" width="16.95" height="11.20" fill="#fff" rx="1.3"/>
<text x="26.70" y="78.63" font-size="10.5" fill="#000" text-anchor="middle" textLength="11.53" lengthAdjust="spacingAndGlyphs" stroke="#000" stroke-width="0.15">J3</text>
<rect x="17.20" y="83.90" width="20.50" height="14.00" fill="#000" rx="2.4"/>
<rect x="18.75" y="85.50" width="16.95" height="10.40" fill="#fff" rx="1.3"/>
<text x="26.70" y="94.83" font-size="10.5" fill="#000" text-anchor="middle" textLength="11.53" lengthAdjust="spacingAndGlyphs" stroke="#000" stroke-width="0.15">J4</text>
<rect x="17.20" y="99.70" width="20.50" height="13.60" fill="#000" rx="2.4"/>
<rect x="18.75" y="101.30" width="16.95" height="10.00" fill="#fff" rx="1.3"/>
<text x="26.70" y="110.43" font-size="10.5" fill="#000" text-anchor="middle" textLength="11.53" lengthAdjust="spacingAndGlyphs" stroke="#000" stroke-width="0.15">J5</text>
<rect x="17.20" y="115.20" width="20.50" height="13.10" fill="#000" rx="2.4"/>
<rect x="18.75" y="116.80" width="16.95" height="9.50" fill="#fff" rx="1.3"/>
<text x="26.70" y="125.68" font-size="10.5" fill="#000" text-anchor="middle" textLength="11.53" lengthAdjust="spacingAndGlyphs" stroke="#000" stroke-width="0.15">J6</text>
<rect x="9.70" y="130.20" width="28.20" height="13.10" fill="#000" rx="2.4"/>
<rect x="11.25" y="131.80" width="24.65" height="9.50" fill="#fff" rx="1.3"/>
<text x="23.85" y="140.68" font-size="10.5" fill="#000" text-anchor="middle" textLength="18.82" lengthAdjust="spacingAndGlyphs" stroke="#000" stroke-width="0.15">JP5</text>
<rect x="4.20" y="145.20" width="33.70" height="13.40" fill="#000" rx="2.4"/>
<rect x="5.75" y="146.80" width="30.15" height="9.80" fill="#fff" rx="1.3"/>
<text x="21.10" y="155.83" font-size="10.5" fill="#000" text-anchor="middle" textLength="24.89" lengthAdjust="spacingAndGlyphs" stroke="#000" stroke-width="0.15">JP14</text>
<rect x="2.20" y="171.30" width="28.30" height="14.20" fill="#000" rx="2.4"/>
<rect x="3.75" y="172.90" width="24.75" height="10.60" fill="#fff" rx="1.3"/>
<text x="16.40" y="182.33" font-size="10.5" fill="#000" text-anchor="middle" textLength="18.82" lengthAdjust="spacingAndGlyphs" stroke="#000" stroke-width="0.15">JP7</text>
<rect x="20.30" y="191.00" width="27.30" height="15.60" fill="#000" rx="2.4"/>
<rect x="21.85" y="192.60" width="23.75" height="12.00" fill="#fff" rx="1.3"/>
<text x="34.00" y="202.73" font-size="10.5" fill="#000" text-anchor="middle" textLength="18.82" lengthAdjust="spacingAndGlyphs" stroke="#000" stroke-width="0.15">JP9</text>
<rect x="3.20" y="248.50" width="32.80" height="14.60" fill="#000" rx="2.4"/>
<rect x="4.75" y="250.10" width="29.25" height="11.00" fill="#fff" rx="1.3"/>
<text x="19.65" y="259.73" font-size="10.5" fill="#000" text-anchor="middle" textLength="24.08" lengthAdjust="spacingAndGlyphs" stroke="#000" stroke-width="0.15">JP11</text>
<rect x="20.50" y="270.30" width="33.20" height="13.90" fill="#000" rx="2.4"/>
<rect x="22.05" y="271.90" width="29.65" height="10.30" fill="#fff" rx="1.3"/>
<text x="37.15" y="281.18" font-size="10.5" fill="#000" text-anchor="middle" textLength="24.89" lengthAdjust="spacingAndGlyphs" stroke="#000" stroke-width="0.15">JP10</text>
<rect x="26.50" y="316.00" width="39.80" height="14.30" fill="#000" rx="2.4"/>
<rect x="28.05" y="317.60" width="36.25" height="10.70" fill="#fff" rx="1.3"/>
<text x="46.45" y="327.08" font-size="10.5" fill="#000" text-anchor="middle" textLength="35.00" lengthAdjust="spacingAndGlyphs" stroke="#000" stroke-width="0.15">CACHE</text>
<rect x="9.40" y="339.00" width="26.90" height="15.70" fill="#000" rx="2.4"/>
<rect x="10.95" y="340.60" width="23.35" height="12.10" fill="#fff" rx="1.3"/>
<text x="22.90" y="350.78" font-size="10.5" fill="#000" text-anchor="middle" textLength="20.03" lengthAdjust="spacingAndGlyphs" stroke="#000" stroke-width="0.15">TP1</text>
<rect x="105.20" y="34.90" width="27.10" height="14.40" fill="#000" rx="2.4"/>
<rect x="106.75" y="36.50" width="23.55" height="10.80" fill="#fff" rx="1.3"/>
<text x="118.80" y="46.03" font-size="10.5" fill="#000" text-anchor="middle" textLength="24.27" lengthAdjust="spacingAndGlyphs" stroke="#000" stroke-width="0.15">VRM</text>
<rect x="105.90" y="146.70" width="28.40" height="15.10" fill="#000" rx="2.4"/>
<rect x="107.45" y="148.30" width="24.85" height="11.50" fill="#fff" rx="1.3"/>
<text x="120.15" y="158.18" font-size="10.5" fill="#000" text-anchor="middle" textLength="23.06" lengthAdjust="spacingAndGlyphs" stroke="#000" stroke-width="0.15">CPU</text>
<rect x="185.20" y="77.20" width="20.90" height="14.30" fill="#000" rx="2.4"/>
<rect x="186.75" y="78.80" width="17.35" height="10.70" fill="#fff" rx="1.3"/>
<text x="195.70" y="88.28" font-size="10.5" fill="#000" text-anchor="middle" textLength="11.53" lengthAdjust="spacingAndGlyphs" stroke="#000" stroke-width="0.15">J7</text>
<rect x="297.30" y="27.90" width="27.70" height="13.80" fill="#000" rx="2.4"/>
<rect x="298.85" y="29.50" width="24.15" height="10.20" fill="#fff" rx="1.3"/>
<text x="311.20" y="38.73" font-size="10.5" fill="#000" text-anchor="middle" textLength="18.82" lengthAdjust="spacingAndGlyphs" stroke="#000" stroke-width="0.15">JP6</text>
<rect x="317.20" y="222.10" width="32.60" height="14.10" fill="#000" rx="2.4"/>
<rect x="318.75" y="223.70" width="29.05" height="10.50" fill="#fff" rx="1.3"/>
<text x="333.55" y="233.08" font-size="10.5" fill="#000" text-anchor="middle" textLength="27.00" lengthAdjust="spacingAndGlyphs" stroke="#000" stroke-width="0.15">JPS2</text>
<rect x="332.60" y="240.20" width="33.50" height="15.60" fill="#000" rx="2.4"/>
<rect x="334.15" y="241.80" width="29.95" height="12.00" fill="#fff" rx="1.3"/>
<text x="349.40" y="251.93" font-size="10.5" fill="#000" text-anchor="middle" textLength="24.50" lengthAdjust="spacingAndGlyphs" stroke="#000" stroke-width="0.15">JPS1</text>
<rect x="332.20" y="272.10" width="27.80" height="14.60" fill="#000" rx="2.4"/>
<rect x="333.75" y="273.70" width="24.25" height="11.00" fill="#fff" rx="1.3"/>
<text x="346.15" y="283.33" font-size="10.5" fill="#000" text-anchor="middle" textLength="17.00" lengthAdjust="spacingAndGlyphs" stroke="#000" stroke-width="0.15">JP1</text>
<rect x="523.90" y="150.40" width="27.00" height="13.80" fill="#000" rx="2.4"/>
<rect x="525.45" y="152.00" width="23.45" height="10.20" fill="#fff" rx="1.3"/>
<text x="537.45" y="161.23" font-size="10.5" fill="#000" text-anchor="middle" textLength="17.61" lengthAdjust="spacingAndGlyphs" stroke="#000" stroke-width="0.15">J24</text>
<rect x="505.70" y="169.70" width="28.60" height="14.50" fill="#000" rx="2.4"/>
<rect x="507.25" y="171.30" width="25.05" height="10.90" fill="#fff" rx="1.3"/>
<text x="520.05" y="180.88" font-size="10.5" fill="#000" text-anchor="middle" textLength="17.61" lengthAdjust="spacingAndGlyphs" stroke="#000" stroke-width="0.15">J25</text>
<rect x="598.50" y="133.40" width="37.60" height="14.10" fill="#000" rx="2.4"/>
<rect x="600.05" y="135.00" width="34.05" height="10.50" fill="#fff" rx="1.3"/>
<text x="617.35" y="144.38" font-size="10.5" fill="#000" text-anchor="middle" textLength="31.50" lengthAdjust="spacingAndGlyphs" stroke="#000" stroke-width="0.15">JP15A</text>
<rect x="603.50" y="154.70" width="37.50" height="14.50" fill="#000" rx="2.4"/>
<rect x="605.05" y="156.30" width="33.95" height="10.90" fill="#fff" rx="1.3"/>
<text x="622.30" y="165.88" font-size="10.5" fill="#000" text-anchor="middle" textLength="31.50" lengthAdjust="spacingAndGlyphs" stroke="#000" stroke-width="0.15">JP15B</text>
<rect x="596.20" y="180.90" width="32.70" height="14.00" fill="#000" rx="2.4"/>
<rect x="597.75" y="182.50" width="29.15" height="10.40" fill="#fff" rx="1.3"/>
<text x="612.60" y="191.83" font-size="10.5" fill="#000" text-anchor="middle" textLength="24.89" lengthAdjust="spacingAndGlyphs" stroke="#000" stroke-width="0.15">JP12</text>
<rect x="395.00" y="268.25" width="26.90" height="15.00" fill="#000" rx="2.4"/>
<rect x="397.75" y="270.10" width="22.25" height="10.65" fill="#fff" rx="1.2999999999999998"/>
<text x="409.10" y="279.50" font-size="10.5" fill="#000" text-anchor="middle" textLength="21.20" lengthAdjust="spacingAndGlyphs" stroke="#000" stroke-width="0.15">CN5</text>
<rect x="371.90" y="334.90" width="26.85" height="13.10" fill="#000" rx="2.4"/>
<rect x="374.00" y="336.75" width="22.90" height="10.65" fill="#fff" rx="1.2999999999999998"/>
<text x="385.00" y="345.75" font-size="10.5" fill="#000" text-anchor="middle" textLength="21.20" lengthAdjust="spacingAndGlyphs" stroke="#000" stroke-width="0.15">CN6</text>
<rect x="486.25" y="268.00" width="27.75" height="15.25" fill="#000" rx="2.4"/>
<rect x="489.00" y="269.75" width="22.90" height="11.00" fill="#fff" rx="1.2999999999999998"/>
<text x="500.80" y="278.90" font-size="10.5" fill="#000" text-anchor="middle" textLength="20.60" lengthAdjust="spacingAndGlyphs" stroke="#000" stroke-width="0.15">CN3</text>
<rect x="490.00" y="336.00" width="27.50" height="13.25" fill="#000" rx="2.4"/>
<rect x="491.90" y="337.75" width="23.70" height="11.00" fill="#fff" rx="1.2999999999999998"/>
<text x="504.70" y="346.90" font-size="10.5" fill="#000" text-anchor="middle" textLength="20.60" lengthAdjust="spacingAndGlyphs" stroke="#000" stroke-width="0.15">CN4</text>
<rect x="562.10" y="268.00" width="27.90" height="14.20" fill="#000" rx="2.4"/>
<rect x="564.00" y="269.75" width="23.75" height="10.35" fill="#fff" rx="1.2999999999999998"/>
<text x="575.60" y="278.90" font-size="10.5" fill="#000" text-anchor="middle" textLength="18.80" lengthAdjust="spacingAndGlyphs" stroke="#000" stroke-width="0.15">CN1</text>
<rect x="568.60" y="293.25" width="28.25" height="14.00" fill="#000" rx="2.4"/>
<rect x="570.60" y="295.10" width="24.15" height="10.40" fill="#fff" rx="1.2999999999999998"/>
<text x="583.10" y="304.50" font-size="10.5" fill="#000" text-anchor="middle" textLength="21.30" lengthAdjust="spacingAndGlyphs" stroke="#000" stroke-width="0.15">CN2</text>
<rect x="534.00" y="323.75" width="27.70" height="13.95" fill="#000" rx="2.4"/>
<rect x="536.25" y="325.60" width="23.35" height="10.00" fill="#fff" rx="1.2999999999999998"/>
<text x="547.40" y="334.75" font-size="10.5" fill="#000" text-anchor="middle" textLength="18.30" lengthAdjust="spacingAndGlyphs" stroke="#000" stroke-width="0.15">J10</text>
<rect x="585.90" y="316.25" width="26.10" height="15.65" fill="#000" rx="4"/>
<rect x="588.00" y="318.10" width="22.50" height="11.30" fill="#fff" rx="2.9"/>
<text x="599.20" y="327.75" font-size="10.5" fill="#000" text-anchor="middle" textLength="20.00" lengthAdjust="spacingAndGlyphs" stroke="#000" stroke-width="0.15">CN7</text>
<polygon points="35.20,28.20 37.80,28.20 43.60,26.00 37.80,23.80 35.20,23.80" fill="#fff"/>
<polyline points="36.90,28.20 43.60,26.00 36.90,23.80" fill="none" stroke="#000" stroke-width="1.2" stroke-linejoin="miter"/>
<polygon points="35.20,56.20 37.80,56.20 43.60,54.00 37.80,51.80 35.20,51.80" fill="#fff"/>
<polyline points="36.90,56.20 43.60,54.00 36.90,51.80" fill="none" stroke="#000" stroke-width="1.2" stroke-linejoin="miter"/>
<polygon points="35.20,77.00 37.80,77.00 43.60,74.80 37.80,72.60 35.20,72.60" fill="#fff"/>
<polyline points="36.90,77.00 43.60,74.80 36.90,72.60" fill="none" stroke="#000" stroke-width="1.2" stroke-linejoin="miter"/>
<polygon points="35.14,92.83 37.74,92.90 43.60,90.85 37.86,88.50 35.26,88.43" fill="#fff"/>
<polyline points="36.84,92.88 43.60,90.85 36.96,88.48" fill="none" stroke="#000" stroke-width="1.2" stroke-linejoin="miter"/>
<polygon points="35.26,108.27 37.86,108.20 43.60,105.85 37.74,103.80 35.14,103.87" fill="#fff"/>
<polyline points="36.96,108.22 43.60,105.85 36.84,103.82" fill="none" stroke="#000" stroke-width="1.2" stroke-linejoin="miter"/>
<polygon points="35.30,123.51 37.90,123.40 43.59,120.95 37.70,119.00 35.11,119.12" fill="#fff"/>
<polyline points="37.00,123.44 43.59,120.95 36.81,119.04" fill="none" stroke="#000" stroke-width="1.2" stroke-linejoin="miter"/>
<polygon points="35.13,138.71 37.72,138.80 43.60,136.80 37.88,134.40 35.28,134.31" fill="#fff"/>
<polyline points="36.82,138.77 43.60,136.80 36.98,134.37" fill="none" stroke="#000" stroke-width="1.2" stroke-linejoin="miter"/>
<polygon points="35.30,153.91 37.90,153.80 43.59,151.35 37.70,149.40 35.11,149.52" fill="#fff"/>
<polyline points="37.00,153.84 43.59,151.35 36.81,149.44" fill="none" stroke="#000" stroke-width="1.2" stroke-linejoin="miter"/>
<polygon points="28.00,180.70 30.60,180.70 36.40,178.50 30.60,176.30 28.00,176.30" fill="#fff"/>
<polyline points="29.70,180.70 36.40,178.50 29.70,176.30" fill="none" stroke="#000" stroke-width="1.2" stroke-linejoin="miter"/>
<polygon points="33.40,258.00 36.00,258.00 41.80,255.80 36.00,253.60 33.40,253.60" fill="#fff"/>
<polyline points="35.10,258.00 41.80,255.80 35.10,253.60" fill="none" stroke="#000" stroke-width="1.2" stroke-linejoin="miter"/>
<polygon points="33.70,349.00 36.30,349.00 42.10,346.80 36.30,344.60 33.70,344.60" fill="#fff"/>
<polyline points="35.40,349.00 42.10,346.80 35.40,344.60" fill="none" stroke="#000" stroke-width="1.2" stroke-linejoin="miter"/>
<polygon points="115.90,46.60 115.90,49.20 118.30,55.00 120.70,49.20 120.70,46.60" fill="#fff"/>
<polyline points="115.90,48.30 118.30,55.00 120.70,48.30" fill="none" stroke="#000" stroke-width="1.2" stroke-linejoin="miter"/>
<polygon points="192.60,88.80 192.60,91.40 195.00,97.20 197.40,91.40 197.40,88.80" fill="#fff"/>
<polyline points="192.60,90.50 195.00,97.20 197.40,90.50" fill="none" stroke="#000" stroke-width="1.2" stroke-linejoin="miter"/>
<polygon points="335.50,244.20 332.90,244.20 328.50,247.80 332.90,251.40 335.50,251.40" fill="#fff"/>
<polyline points="333.80,244.20 328.50,247.80 333.80,251.40" fill="none" stroke="#000" stroke-width="1.2" stroke-linejoin="miter"/>
<polygon points="357.40,282.10 360.00,282.10 365.80,279.90 360.00,277.70 357.40,277.70" fill="#fff"/>
<polyline points="359.10,282.10 365.80,279.90 359.10,277.70" fill="none" stroke="#000" stroke-width="1.2" stroke-linejoin="miter"/>
<polygon points="405.90,280.60 405.90,283.20 408.10,289.00 410.30,283.20 410.30,280.60" fill="#fff"/>
<polyline points="405.90,282.30 408.10,289.00 410.30,282.30" fill="none" stroke="#000" stroke-width="1.2" stroke-linejoin="miter"/>
<polygon points="388.40,337.00 388.40,335.00 386.00,329.20 383.60,335.00 383.60,337.00" fill="#fff"/>
<polyline points="388.40,335.90 386.00,329.20 383.60,335.90" fill="none" stroke="#000" stroke-width="1.2" stroke-linejoin="miter"/>
<polygon points="497.60,280.60 497.60,283.20 499.80,289.00 502.00,283.20 502.00,280.60" fill="#fff"/>
<polyline points="497.60,282.30 499.80,289.00 502.00,282.30" fill="none" stroke="#000" stroke-width="1.2" stroke-linejoin="miter"/>
<polygon points="507.40,338.10 507.40,336.10 504.40,330.30 501.40,336.10 501.40,338.10" fill="#fff"/>
<polyline points="507.40,337.00 504.40,330.30 501.40,337.00" fill="none" stroke="#000" stroke-width="1.2" stroke-linejoin="miter"/>
<polygon points="571.40,297.00 568.80,297.00 564.80,300.60 568.80,304.20 571.40,304.20" fill="#fff"/>
<polyline points="569.70,297.00 564.80,300.60 569.70,304.20" fill="none" stroke="#000" stroke-width="1.2" stroke-linejoin="miter"/>
<polygon points="530.90,179.20 533.50,179.20 539.30,177.00 533.50,174.80 530.90,174.80" fill="#fff"/>
<polyline points="532.60,179.20 539.30,177.00 532.60,174.80" fill="none" stroke="#000" stroke-width="1.2" stroke-linejoin="miter"/>
<polygon points="608.10,159.80 605.50,159.80 599.70,162.00 605.50,164.20 608.10,164.20" fill="#fff"/>
<polyline points="606.40,159.80 599.70,162.00 606.40,164.20" fill="none" stroke="#000" stroke-width="1.2" stroke-linejoin="miter"/>
<polygon points="45.74,193.11 52.42,187.88 50.58,185.52 43.89,190.74" fill="#fff"/>
<line x1="46.45" y1="192.55" x2="52.42" y2="187.88" stroke="#000" stroke-width="1.2"/>
<line x1="44.60" y1="190.19" x2="50.58" y2="185.52" stroke="#000" stroke-width="1.2"/>
<line x1="52.42" y1="187.88" x2="50.58" y2="185.52" stroke="#000" stroke-width="1.2"/>
<polygon points="52.20,272.72 58.66,266.26 56.54,264.14 50.08,270.60" fill="#fff"/>
<line x1="52.84" y1="272.08" x2="58.66" y2="266.26" stroke="#000" stroke-width="1.2"/>
<line x1="50.72" y1="269.96" x2="56.54" y2="264.14" stroke="#000" stroke-width="1.2"/>
<line x1="58.66" y1="266.26" x2="56.54" y2="264.14" stroke="#000" stroke-width="1.2"/>
<polygon points="299.14,38.32 293.08,44.38 294.92,46.22 300.98,40.16" fill="#fff"/>
<line x1="298.51" y1="38.96" x2="293.08" y2="44.38" stroke="#000" stroke-width="1.2"/>
<line x1="300.34" y1="40.79" x2="294.92" y2="46.22" stroke="#000" stroke-width="1.2"/>
<line x1="293.08" y1="44.38" x2="294.92" y2="46.22" stroke="#000" stroke-width="1.2"/>
<polygon points="318.08,233.12 311.31,241.06 313.29,242.74 320.06,234.80" fill="#fff"/>
<line x1="317.50" y1="233.80" x2="311.31" y2="241.06" stroke="#000" stroke-width="1.2"/>
<line x1="319.48" y1="235.49" x2="313.29" y2="242.74" stroke="#000" stroke-width="1.2"/>
<line x1="311.31" y1="241.06" x2="313.29" y2="242.74" stroke="#000" stroke-width="1.2"/>
<polygon points="563.98,278.88 557.33,285.65 559.47,287.75 566.12,280.98" fill="#fff"/>
<line x1="563.35" y1="279.52" x2="557.33" y2="285.65" stroke="#000" stroke-width="1.4"/>
<line x1="565.49" y1="281.62" x2="559.47" y2="287.75" stroke="#000" stroke-width="1.4"/>
<line x1="557.33" y1="285.65" x2="559.47" y2="287.75" stroke="#000" stroke-width="1.4"/>
<polygon points="548.09,162.66 553.91,171.51 556.09,170.09 550.26,161.23" fill="#fff"/>
<line x1="548.58" y1="163.41" x2="553.91" y2="171.51" stroke="#000" stroke-width="1.2"/>
<line x1="550.76" y1="161.98" x2="556.09" y2="170.09" stroke="#000" stroke-width="1.2"/>
<line x1="553.91" y1="171.51" x2="556.09" y2="170.09" stroke="#000" stroke-width="1.2"/>
<polygon points="600.11,144.09 590.65,153.55 592.35,155.25 601.81,145.79" fill="#fff"/>
<line x1="599.48" y1="144.73" x2="590.65" y2="153.55" stroke="#000" stroke-width="1.2"/>
<line x1="601.17" y1="146.42" x2="592.35" y2="155.25" stroke="#000" stroke-width="1.2"/>
<line x1="590.65" y1="153.55" x2="592.35" y2="155.25" stroke="#000" stroke-width="1.2"/>
<polygon points="599.51,182.71 590.95,174.15 589.25,175.85 597.81,184.41" fill="#fff"/>
<line x1="598.87" y1="182.08" x2="590.95" y2="174.15" stroke="#000" stroke-width="1.2"/>
<line x1="597.18" y1="183.77" x2="589.25" y2="175.85" stroke="#000" stroke-width="1.2"/>
<line x1="590.95" y1="174.15" x2="589.25" y2="175.85" stroke="#000" stroke-width="1.2"/>
</svg>
</body></html>
